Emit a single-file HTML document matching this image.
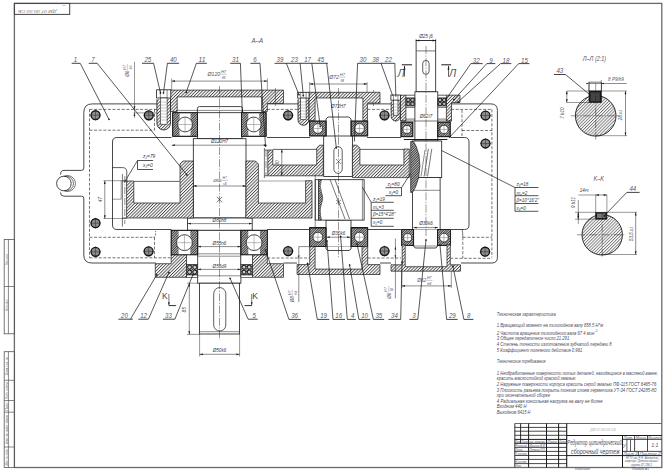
<!DOCTYPE html>
<html><head><meta charset="utf-8"><style>
html,body{margin:0;padding:0;background:#fff;}
svg{display:block;font-family:"Liberation Sans",sans-serif;}
</style></head><body>
<svg width="666" height="470" viewBox="0 0 666 470">
<rect width="666" height="470" fill="#fff"/>
<defs>
<pattern id="h" patternUnits="userSpaceOnUse" width="2.25" height="2.25" patternTransform="rotate(45)"><rect width="2.25" height="2.25" fill="#fff"/><line x1="0.5" y1="0" x2="0.5" y2="2.25" stroke="#2a2a2a" stroke-width="0.75"/></pattern>
<pattern id="hb" patternUnits="userSpaceOnUse" width="2.6" height="2.6" patternTransform="rotate(-45)"><rect width="2.6" height="2.6" fill="#fff"/><line x1="0" y1="0" x2="0" y2="2.6" stroke="#333" stroke-width="0.55"/></pattern>
<pattern id="hd" patternUnits="userSpaceOnUse" width="1.2" height="1.2" patternTransform="rotate(45)"><rect width="1.2" height="1.2" fill="#bbb"/><line x1="0.3" y1="0" x2="0.3" y2="1.2" stroke="#222" stroke-width="0.5"/></pattern>
<pattern id="hs" patternUnits="userSpaceOnUse" width="2.2" height="2.2" patternTransform="rotate(45)"><line x1="0.5" y1="0" x2="0.5" y2="2.2" stroke="#333" stroke-width="0.6"/></pattern>
</defs>
<rect x="14.4" y="3.4" width="647.4" height="464.1" fill="none" stroke="#6a6a6a" stroke-width="1.3"/>
<rect x="14.4" y="3.4" width="55.3" height="11" fill="none" stroke="#444" stroke-width="1.0"/>
<text x="37.3" y="10.1" font-size="3.1" text-anchor="middle" fill="#777" style="font-style:italic;" transform="rotate(180 37.3 10.1)" textLength="38.5" lengthAdjust="spacingAndGlyphs">ДМ 07.00.00 СБ</text>
<text x="63.7" y="5" font-size="2.4" text-anchor="middle" fill="#888" style="font-style:italic;" transform="rotate(180 63.7 5)">вЭ</text>
<rect x="4.2" y="239.4" width="10.2" height="94.4" fill="none" stroke="#555" stroke-width="0.8"/>
<line x1="8.4" y1="239.4" x2="8.4" y2="333.8" stroke="#555" stroke-width="0.7"/>
<line x1="4.2" y1="286.5" x2="14.4" y2="286.5" stroke="#555" stroke-width="0.7"/>
<rect x="4.2" y="351.7" width="10.2" height="115.8" fill="none" stroke="#555" stroke-width="0.8"/>
<line x1="8.4" y1="351.7" x2="8.4" y2="467.5" stroke="#555" stroke-width="0.7"/>
<line x1="4.2" y1="380.3" x2="14.4" y2="380.3" stroke="#555" stroke-width="0.7"/>
<line x1="4.2" y1="400.5" x2="14.4" y2="400.5" stroke="#555" stroke-width="0.7"/>
<line x1="4.2" y1="412.2" x2="14.4" y2="412.2" stroke="#555" stroke-width="0.7"/>
<line x1="4.2" y1="447" x2="14.4" y2="447" stroke="#555" stroke-width="0.7"/>
<text x="7.9" y="259.5" font-size="3.2" text-anchor="middle" fill="#667" style="font-style:italic;" transform="rotate(-90 7.9 259.5)" textLength="11" lengthAdjust="spacingAndGlyphs">Подп. и дата</text>
<text x="7.9" y="305" font-size="3.2" text-anchor="middle" fill="#667" style="font-style:italic;" transform="rotate(-90 7.9 305)" textLength="12" lengthAdjust="spacingAndGlyphs">Инв. № дубл.</text>
<text x="7.9" y="366" font-size="3.2" text-anchor="middle" fill="#667" style="font-style:italic;" transform="rotate(-90 7.9 366)" textLength="18" lengthAdjust="spacingAndGlyphs">Взам. инв. №</text>
<text x="7.9" y="390.4" font-size="3.2" text-anchor="middle" fill="#667" style="font-style:italic;" transform="rotate(-90 7.9 390.4)" textLength="17" lengthAdjust="spacingAndGlyphs">Подп. и дата</text>
<text x="7.9" y="406.3" font-size="3.2" text-anchor="middle" fill="#667" style="font-style:italic;" transform="rotate(-90 7.9 406.3)" textLength="9" lengthAdjust="spacingAndGlyphs">Подп.</text>
<text x="7.9" y="429.6" font-size="3.2" text-anchor="middle" fill="#667" style="font-style:italic;" transform="rotate(-90 7.9 429.6)" textLength="29" lengthAdjust="spacingAndGlyphs">Инв. № подл. дата</text>
<text x="7.9" y="457" font-size="3.2" text-anchor="middle" fill="#667" style="font-style:italic;" transform="rotate(-90 7.9 457)" textLength="17" lengthAdjust="spacingAndGlyphs">Инв. № подл.</text>
<line x1="514.8" y1="423.5" x2="661.8" y2="423.5" stroke="#666" stroke-width="1.1"/>
<line x1="514.8" y1="423.5" x2="514.8" y2="467.5" stroke="#444" stroke-width="1.1"/>
<line x1="520.6" y1="423.5" x2="520.6" y2="443.3" stroke="#1a1a1a" stroke-width="0.9"/>
<line x1="528.6" y1="423.5" x2="528.6" y2="467.5" stroke="#1a1a1a" stroke-width="1.0"/>
<line x1="546.5" y1="423.5" x2="546.5" y2="467.5" stroke="#1a1a1a" stroke-width="1.0"/>
<line x1="558.6" y1="423.5" x2="558.6" y2="467.5" stroke="#1a1a1a" stroke-width="1.0"/>
<line x1="566.7" y1="423.5" x2="566.7" y2="467.5" stroke="#1a1a1a" stroke-width="1.1"/>
<line x1="514.8" y1="427.4" x2="566.7" y2="427.4" stroke="#1a1a1a" stroke-width="0.8"/>
<line x1="514.8" y1="431.2" x2="566.7" y2="431.2" stroke="#1a1a1a" stroke-width="0.8"/>
<line x1="514.8" y1="435.3" x2="566.7" y2="435.3" stroke="#1a1a1a" stroke-width="0.8"/>
<line x1="514.8" y1="439.4" x2="566.7" y2="439.4" stroke="#1a1a1a" stroke-width="1.0"/>
<line x1="514.8" y1="443.3" x2="566.7" y2="443.3" stroke="#1a1a1a" stroke-width="1.0"/>
<line x1="514.8" y1="447.4" x2="566.7" y2="447.4" stroke="#1a1a1a" stroke-width="0.8"/>
<line x1="514.8" y1="451.4" x2="566.7" y2="451.4" stroke="#1a1a1a" stroke-width="0.8"/>
<line x1="514.8" y1="455.5" x2="566.7" y2="455.5" stroke="#1a1a1a" stroke-width="0.8"/>
<line x1="514.8" y1="459.4" x2="566.7" y2="459.4" stroke="#1a1a1a" stroke-width="0.8"/>
<line x1="514.8" y1="463.6" x2="566.7" y2="463.6" stroke="#1a1a1a" stroke-width="0.8"/>
<line x1="566.7" y1="435.5" x2="661.8" y2="435.5" stroke="#1a1a1a" stroke-width="1.0"/>
<line x1="566.7" y1="455.6" x2="661.8" y2="455.6" stroke="#1a1a1a" stroke-width="1.0"/>
<line x1="622.5" y1="435.5" x2="622.5" y2="467.5" stroke="#1a1a1a" stroke-width="1.0"/>
<line x1="622.5" y1="439.4" x2="661.8" y2="439.4" stroke="#1a1a1a" stroke-width="0.8"/>
<line x1="622.5" y1="451.4" x2="661.8" y2="451.4" stroke="#1a1a1a" stroke-width="0.8"/>
<line x1="626.9" y1="439.4" x2="626.9" y2="451.4" stroke="#1a1a1a" stroke-width="0.7"/>
<line x1="630.5" y1="439.4" x2="630.5" y2="451.4" stroke="#1a1a1a" stroke-width="0.7"/>
<line x1="634.6" y1="435.5" x2="634.6" y2="451.4" stroke="#1a1a1a" stroke-width="0.8"/>
<line x1="647.5" y1="435.5" x2="647.5" y2="451.4" stroke="#1a1a1a" stroke-width="0.8"/>
<line x1="638.4" y1="451.4" x2="638.4" y2="455.6" stroke="#1a1a1a" stroke-width="0.7"/>
<text x="567.3" y="445.3" font-size="6.6" text-anchor="start" fill="#4a4a66" style="font-style:italic;" textLength="54.3" lengthAdjust="spacingAndGlyphs">Редуктор цилиндрический</text>
<text x="571" y="453.6" font-size="6.6" text-anchor="start" fill="#4a4a66" style="font-style:italic;" textLength="48.6" lengthAdjust="spacingAndGlyphs">сборочный чертеж</text>
<text x="623.5" y="438.6" font-size="3" text-anchor="start" fill="#556" style="font-style:italic;" textLength="10" lengthAdjust="spacingAndGlyphs">Лит.</text>
<text x="636" y="438.6" font-size="3" text-anchor="start" fill="#556" style="font-style:italic;" textLength="10" lengthAdjust="spacingAndGlyphs">Масса</text>
<text x="648.2" y="438.6" font-size="3" text-anchor="start" fill="#556" style="font-style:italic;" textLength="12.8" lengthAdjust="spacingAndGlyphs">Масштаб</text>
<text x="654.8" y="447.2" font-size="5.2" text-anchor="middle" fill="#556" style="font-style:italic;">1:1</text>
<text x="624.2" y="447.5" font-size="4.5" text-anchor="middle" fill="#556" style="font-style:italic;">У</text>
<text x="623.5" y="454.7" font-size="3" text-anchor="start" fill="#556" style="font-style:italic;" textLength="14" lengthAdjust="spacingAndGlyphs">Лист    2</text>
<text x="639.5" y="454.7" font-size="3" text-anchor="start" fill="#556" style="font-style:italic;" textLength="21" lengthAdjust="spacingAndGlyphs">Листов     2</text>
<text x="626" y="459.2" font-size="2.9" text-anchor="start" fill="#556" style="font-style:italic;" textLength="32" lengthAdjust="spacingAndGlyphs">НГТУ им. Р. Е. Алексеева</text>
<text x="625" y="462.4" font-size="2.9" text-anchor="start" fill="#556" style="font-style:italic;" textLength="34" lengthAdjust="spacingAndGlyphs">кафедра "Детали машин"</text>
<text x="631" y="465.9" font-size="2.9" text-anchor="start" fill="#556" style="font-style:italic;" textLength="21" lengthAdjust="spacingAndGlyphs">группа 07-ТМ-1</text>
<text x="515.3" y="442.5" font-size="2.9" text-anchor="start" fill="#556" style="font-style:italic;" textLength="12.7" lengthAdjust="spacingAndGlyphs">Изм. Лист</text>
<text x="529.5" y="442.5" font-size="2.9" text-anchor="start" fill="#556" style="font-style:italic;" textLength="16" lengthAdjust="spacingAndGlyphs">№ докум.</text>
<text x="547.5" y="442.5" font-size="2.9" text-anchor="start" fill="#556" style="font-style:italic;" textLength="10" lengthAdjust="spacingAndGlyphs">Подп.</text>
<text x="559.5" y="442.5" font-size="2.9" text-anchor="start" fill="#556" style="font-style:italic;" textLength="6.5" lengthAdjust="spacingAndGlyphs">Дата</text>
<text x="515.3" y="446.5" font-size="2.9" text-anchor="start" fill="#556" style="font-style:italic;" textLength="12.2" lengthAdjust="spacingAndGlyphs">Разраб.</text>
<text x="529.5" y="446.5" font-size="2.9" text-anchor="start" fill="#556" style="font-style:italic;" textLength="16" lengthAdjust="spacingAndGlyphs">Иванов И.И.</text>
<text x="515.3" y="450.5" font-size="2.9" text-anchor="start" fill="#556" style="font-style:italic;" textLength="7.7" lengthAdjust="spacingAndGlyphs">Пров.</text>
<text x="529.5" y="450.5" font-size="2.9" text-anchor="start" fill="#556" style="font-style:italic;" textLength="16" lengthAdjust="spacingAndGlyphs">Петров П.П.</text>
<text x="515.3" y="454.6" font-size="2.9" text-anchor="start" fill="#556" style="font-style:italic;" textLength="12.2" lengthAdjust="spacingAndGlyphs">Т.контр.</text>
<text x="515.3" y="462.7" font-size="2.9" text-anchor="start" fill="#556" style="font-style:italic;" textLength="12.2" lengthAdjust="spacingAndGlyphs">Н.контр.</text>
<text x="515.3" y="466.7" font-size="2.9" text-anchor="start" fill="#556" style="font-style:italic;" textLength="6.2" lengthAdjust="spacingAndGlyphs">Утв.</text>
<text x="603" y="431" font-size="3.5" text-anchor="middle" fill="#aab" style="font-style:italic;">ДМ 07.00.00 СБ</text>
<text x="575" y="470.4" font-size="3.4" text-anchor="start" fill="#556" style="font-style:italic;" textLength="15" lengthAdjust="spacingAndGlyphs">Копировал</text>
<text x="631.7" y="470.4" font-size="3.4" text-anchor="start" fill="#556" style="font-style:italic;" textLength="17.3" lengthAdjust="spacingAndGlyphs">Формат  A1</text>
<line x1="92.3" y1="103.9" x2="157" y2="103.9" stroke="#1a1a1a" stroke-width="0.8"/>
<line x1="267" y1="103.9" x2="298" y2="103.9" stroke="#1a1a1a" stroke-width="0.8"/>
<line x1="367.4" y1="103.9" x2="391" y2="103.9" stroke="#1a1a1a" stroke-width="0.8"/>
<line x1="450.3" y1="103.9" x2="490.9" y2="103.9" stroke="#1a1a1a" stroke-width="0.8"/>
<path d="M83.8,112.4 Q83.8,103.9 92.3,103.9" fill="none" stroke="#1a1a1a" stroke-width="0.8"/>
<path d="M490.9,103.9 Q497.4,103.9 497.4,110.4" fill="none" stroke="#1a1a1a" stroke-width="0.8"/>
<line x1="83.8" y1="112.4" x2="83.8" y2="168" stroke="#1a1a1a" stroke-width="0.8"/>
<line x1="83.8" y1="198" x2="83.8" y2="255" stroke="#1a1a1a" stroke-width="0.8"/>
<path d="M83.8,255.0 Q83.8,263.0 91.8,263.0" fill="none" stroke="#1a1a1a" stroke-width="0.8"/>
<line x1="91.8" y1="263" x2="156" y2="263" stroke="#1a1a1a" stroke-width="0.8"/>
<line x1="497.4" y1="110.4" x2="497.4" y2="257.5" stroke="#1a1a1a" stroke-width="0.8"/>
<path d="M497.4,257.5 Q497.4,263.0 491.9,263.0" fill="none" stroke="#1a1a1a" stroke-width="0.8"/>
<line x1="461" y1="263" x2="491.9" y2="263" stroke="#1a1a1a" stroke-width="0.8"/>
<line x1="283.5" y1="263" x2="297" y2="263" stroke="#1a1a1a" stroke-width="0.8"/>
<line x1="380" y1="263" x2="391" y2="263" stroke="#1a1a1a" stroke-width="0.8"/>
<path d="M83.8,168 Q83.8,170.4 81.5,170.4 L64,170.4 Q60.5,170.4 60.5,174.5" fill="none" stroke="#1a1a1a" stroke-width="0.8"/>
<path d="M83.8,198 Q83.8,196.2 81.5,196.2 L64,196.2 Q60.5,196.2 60.5,192.5" fill="none" stroke="#1a1a1a" stroke-width="0.8"/>
<circle cx="63.9" cy="183.5" r="7.3" fill="#fff" stroke="#1a1a1a" stroke-width="0.8"/>
<path d="M64.5,176.2 A7.46,7.46 0 1 1 64.5,190.8" fill="none" stroke="#1a1a1a" stroke-width="0.6"/>
<path d="M64.5,176.2 A7.9,7.9 0 1 1 64.5,190.8" fill="none" stroke="#1a1a1a" stroke-width="0.6"/>
<line x1="89.5" y1="109.4" x2="157" y2="109.4" stroke="#1a1a1a" stroke-width="0.6" stroke-dasharray="3,1.6"/>
<line x1="267" y1="109.4" x2="298" y2="109.4" stroke="#1a1a1a" stroke-width="0.6" stroke-dasharray="3,1.6"/>
<line x1="367.4" y1="109.4" x2="391" y2="109.4" stroke="#1a1a1a" stroke-width="0.6" stroke-dasharray="3,1.6"/>
<line x1="451" y1="109.4" x2="491.9" y2="109.4" stroke="#1a1a1a" stroke-width="0.6" stroke-dasharray="3,1.6"/>
<line x1="89.5" y1="109.2" x2="89.5" y2="257.8" stroke="#1a1a1a" stroke-width="0.6" stroke-dasharray="3,1.6"/>
<line x1="89.5" y1="130.2" x2="154.5" y2="130.2" stroke="#1a1a1a" stroke-width="0.6" stroke-dasharray="3,1.6"/>
<line x1="154.5" y1="109.2" x2="154.5" y2="130.2" stroke="#1a1a1a" stroke-width="0.6" stroke-dasharray="3,1.6"/>
<line x1="89.5" y1="237.3" x2="153.3" y2="237.3" stroke="#1a1a1a" stroke-width="0.6" stroke-dasharray="3,1.6"/>
<path d="M153.3,237.3 Q155.6,237.3 155.6,234 L155.6,231" fill="none" stroke="#1a1a1a" stroke-width="0.6" stroke-dasharray="2,1.2"/>
<line x1="89.5" y1="257.8" x2="171.2" y2="257.8" stroke="#1a1a1a" stroke-width="0.6" stroke-dasharray="3,1.6"/>
<line x1="154.5" y1="237.3" x2="154.5" y2="257.8" stroke="#1a1a1a" stroke-width="0.6" stroke-dasharray="3,1.6"/>
<line x1="491.9" y1="109.4" x2="491.9" y2="257.5" stroke="#1a1a1a" stroke-width="0.6" stroke-dasharray="3,1.6"/>
<line x1="462" y1="130.5" x2="491.9" y2="130.5" stroke="#1a1a1a" stroke-width="0.6" stroke-dasharray="3,1.6"/>
<line x1="462" y1="110" x2="462" y2="137" stroke="#1a1a1a" stroke-width="0.6" stroke-dasharray="3,1.6"/>
<line x1="462.8" y1="237.3" x2="491.9" y2="237.3" stroke="#1a1a1a" stroke-width="0.6" stroke-dasharray="3,1.6"/>
<line x1="450.3" y1="258.3" x2="491.9" y2="258.3" stroke="#1a1a1a" stroke-width="0.6" stroke-dasharray="3,1.6"/>
<path d="M462.2,230 Q462.8,232 462.8,237.3" fill="none" stroke="#1a1a1a" stroke-width="0.6"/>
<line x1="462.8" y1="237.3" x2="462.8" y2="258.3" stroke="#1a1a1a" stroke-width="0.6" stroke-dasharray="3,1.6"/>
<line x1="267.3" y1="258" x2="309.7" y2="258" stroke="#1a1a1a" stroke-width="0.6" stroke-dasharray="3,1.6"/>
<line x1="367.7" y1="258" x2="401" y2="258" stroke="#1a1a1a" stroke-width="0.6" stroke-dasharray="3,1.6"/>
<line x1="117" y1="137.5" x2="171.5" y2="137.5" stroke="#1a1a1a" stroke-width="0.8"/>
<line x1="117" y1="229.5" x2="171.5" y2="229.5" stroke="#1a1a1a" stroke-width="0.8"/>
<line x1="267" y1="137.5" x2="310" y2="137.5" stroke="#1a1a1a" stroke-width="0.8"/>
<line x1="267" y1="229.5" x2="310" y2="229.5" stroke="#1a1a1a" stroke-width="0.8"/>
<line x1="367" y1="137.5" x2="401" y2="137.5" stroke="#1a1a1a" stroke-width="0.8"/>
<line x1="367" y1="229.5" x2="401" y2="229.5" stroke="#1a1a1a" stroke-width="0.8"/>
<line x1="451" y1="137.5" x2="464.5" y2="137.5" stroke="#1a1a1a" stroke-width="0.8"/>
<line x1="451" y1="229.5" x2="464.5" y2="229.5" stroke="#1a1a1a" stroke-width="0.8"/>
<path d="M112.5,142 Q112.5,137.5 117,137.5" fill="none" stroke="#1a1a1a" stroke-width="0.8"/>
<path d="M112.5,225 Q112.5,229.5 117,229.5" fill="none" stroke="#1a1a1a" stroke-width="0.8"/>
<line x1="112.5" y1="142" x2="112.5" y2="225" stroke="#1a1a1a" stroke-width="0.8"/>
<path d="M464.5,137.5 Q469,137.5 469,142" fill="none" stroke="#1a1a1a" stroke-width="0.8"/>
<path d="M464.5,229.5 Q469,229.5 469,225" fill="none" stroke="#1a1a1a" stroke-width="0.8"/>
<line x1="469" y1="142" x2="469" y2="225" stroke="#1a1a1a" stroke-width="0.8"/>
<path d="M112.5,167.6 L122.5,167.6 Q126.8,167.6 126.8,172 L126.8,181" fill="none" stroke="#1a1a1a" stroke-width="0.7"/>
<circle cx="95.5" cy="115.2" r="4.45" fill="#8c8c8c" stroke="#111" stroke-width="1.35"/>
<line x1="90" y1="115.2" x2="101" y2="115.2" stroke="#222" stroke-width="0.45"/>
<line x1="95.5" y1="109.7" x2="95.5" y2="120.7" stroke="#222" stroke-width="0.45"/>
<circle cx="148.8" cy="115.3" r="4.45" fill="#8c8c8c" stroke="#111" stroke-width="1.35"/>
<line x1="143.3" y1="115.3" x2="154.3" y2="115.3" stroke="#222" stroke-width="0.45"/>
<line x1="148.8" y1="109.8" x2="148.8" y2="120.8" stroke="#222" stroke-width="0.45"/>
<circle cx="288.1" cy="115.3" r="4.45" fill="#8c8c8c" stroke="#111" stroke-width="1.35"/>
<line x1="282.6" y1="115.3" x2="293.6" y2="115.3" stroke="#222" stroke-width="0.45"/>
<line x1="288.1" y1="109.8" x2="288.1" y2="120.8" stroke="#222" stroke-width="0.45"/>
<circle cx="384.5" cy="115.3" r="4.45" fill="#8c8c8c" stroke="#111" stroke-width="1.35"/>
<line x1="379" y1="115.3" x2="390" y2="115.3" stroke="#222" stroke-width="0.45"/>
<line x1="384.5" y1="109.8" x2="384.5" y2="120.8" stroke="#222" stroke-width="0.45"/>
<circle cx="485.5" cy="115.5" r="4.45" fill="#8c8c8c" stroke="#111" stroke-width="1.35"/>
<line x1="480" y1="115.5" x2="491" y2="115.5" stroke="#222" stroke-width="0.45"/>
<line x1="485.5" y1="110" x2="485.5" y2="121" stroke="#222" stroke-width="0.45"/>
<circle cx="485.5" cy="143.5" r="4.45" fill="#8c8c8c" stroke="#111" stroke-width="1.35"/>
<line x1="480" y1="143.5" x2="491" y2="143.5" stroke="#222" stroke-width="0.45"/>
<line x1="485.5" y1="138" x2="485.5" y2="149" stroke="#222" stroke-width="0.45"/>
<circle cx="95.5" cy="223.2" r="4.45" fill="#8c8c8c" stroke="#111" stroke-width="1.35"/>
<line x1="90" y1="223.2" x2="101" y2="223.2" stroke="#222" stroke-width="0.45"/>
<line x1="95.5" y1="217.7" x2="95.5" y2="228.7" stroke="#222" stroke-width="0.45"/>
<circle cx="95.5" cy="251.8" r="4.45" fill="#8c8c8c" stroke="#111" stroke-width="1.35"/>
<line x1="90" y1="251.8" x2="101" y2="251.8" stroke="#222" stroke-width="0.45"/>
<line x1="95.5" y1="246.3" x2="95.5" y2="257.3" stroke="#222" stroke-width="0.45"/>
<circle cx="148.6" cy="251.3" r="4.45" fill="#8c8c8c" stroke="#111" stroke-width="1.35"/>
<line x1="143.1" y1="251.3" x2="154.1" y2="251.3" stroke="#222" stroke-width="0.45"/>
<line x1="148.6" y1="245.8" x2="148.6" y2="256.8" stroke="#222" stroke-width="0.45"/>
<circle cx="288.1" cy="251.1" r="4.45" fill="#8c8c8c" stroke="#111" stroke-width="1.35"/>
<line x1="282.6" y1="251.1" x2="293.6" y2="251.1" stroke="#222" stroke-width="0.45"/>
<line x1="288.1" y1="245.6" x2="288.1" y2="256.6" stroke="#222" stroke-width="0.45"/>
<circle cx="384.5" cy="251.1" r="4.45" fill="#8c8c8c" stroke="#111" stroke-width="1.35"/>
<line x1="379" y1="251.1" x2="390" y2="251.1" stroke="#222" stroke-width="0.45"/>
<line x1="384.5" y1="245.6" x2="384.5" y2="256.6" stroke="#222" stroke-width="0.45"/>
<circle cx="485.1" cy="251.7" r="4.45" fill="#8c8c8c" stroke="#111" stroke-width="1.35"/>
<line x1="479.6" y1="251.7" x2="490.6" y2="251.7" stroke="#222" stroke-width="0.45"/>
<line x1="485.1" y1="246.2" x2="485.1" y2="257.2" stroke="#222" stroke-width="0.45"/>
<path d="M197.4,112.7 L197.4,108.6 Q197.4,106.6 199.4,106.6 L240.5,106.6 Q242.5,106.6 242.5,108.6 L242.5,112.7" fill="#fff" stroke="#1a1a1a" stroke-width="0.8"/>
<rect x="197.4" y="112.7" width="44.6" height="26" fill="#fff" stroke="#1a1a1a" stroke-width="0.8"/>
<rect x="193.3" y="138.7" width="52.7" height="79.3" fill="#fff" stroke="#1a1a1a" stroke-width="0.8"/>
<rect x="187.6" y="218" width="64.6" height="12.3" fill="#fff" stroke="#1a1a1a" stroke-width="0.8"/>
<rect x="197.7" y="230.3" width="43.2" height="52.9" fill="#fff" stroke="#1a1a1a" stroke-width="0.8"/>
<rect x="199.6" y="283.2" width="40" height="50.8" fill="#fff" stroke="#1a1a1a" stroke-width="0.8"/>
<line x1="199.6" y1="331.7" x2="239.6" y2="331.7" stroke="#1a1a1a" stroke-width="0.5"/>
<line x1="216.8" y1="196.9" x2="222.2" y2="202.3" stroke="#1a1a1a" stroke-width="0.6"/>
<line x1="222.2" y1="196.9" x2="216.8" y2="202.3" stroke="#1a1a1a" stroke-width="0.6"/>
<line x1="197.7" y1="253.8" x2="240.9" y2="253.8" stroke="#1a1a1a" stroke-width="0.5"/>
<line x1="197.7" y1="256.2" x2="240.9" y2="256.2" stroke="#1a1a1a" stroke-width="0.5"/>
<path d="M213.7,293.6 A6.05,6.05 0 0 1 225.8,293.6 L225.8,325 A6.05,6.05 0 0 1 213.7,325 Z" fill="none" stroke="#1a1a1a" stroke-width="0.7"/>
<path d="M326,136 L326,119 L328,117 L349,117 L351,119 L351,136" fill="#fff" stroke="#1a1a1a" stroke-width="0.8"/>
<rect x="323.7" y="136" width="28.7" height="40.5" fill="#fff" stroke="#1a1a1a" stroke-width="0.8"/>
<rect x="326" y="220.1" width="25" height="27" fill="#fff" stroke="#1a1a1a" stroke-width="0.8"/>
<path d="M326,247 L326,249 L328,250.5 L349,250.5 L351,249 L351,247" fill="#fff" stroke="#1a1a1a" stroke-width="0.8"/>
<path d="M333.9,150.8 A4.15,4.15 0 0 1 342.2,150.8 L342.2,169.2 A4.15,4.15 0 0 1 333.9,169.2 Z" fill="none" stroke="#1a1a1a" stroke-width="0.7"/>
<line x1="336" y1="159" x2="341" y2="164" stroke="#1a1a1a" stroke-width="0.5"/>
<line x1="341" y1="159" x2="336" y2="164" stroke="#1a1a1a" stroke-width="0.5"/>
<rect x="416.1" y="40.5" width="19.6" height="51.3" fill="#fff" stroke="#1a1a1a" stroke-width="0.8"/>
<line x1="416.3" y1="50.9" x2="435.7" y2="50.9" stroke="#1a1a1a" stroke-width="0.6"/>
<path d="M422.7,63.6 A3.2,3.2 0 0 1 429.1,63.6 L429.1,71.1 A3.2,3.2 0 0 1 422.7,71.1 Z" fill="none" stroke="#1a1a1a" stroke-width="0.7"/>
<rect x="414.9" y="91.8" width="22.9" height="49.2" fill="#fff" stroke="#1a1a1a" stroke-width="0.8"/>
<rect x="412.4" y="177.6" width="27.7" height="52.1" fill="#fff" stroke="#1a1a1a" stroke-width="0.8"/>
<line x1="412.4" y1="190.3" x2="440.1" y2="190.3" stroke="#1a1a1a" stroke-width="0.5"/>
<path d="M413.6,229.6 L413.6,246 L415.2,248 L436,248 L437.6,246 L437.6,229.6" fill="#fff" stroke="#1a1a1a" stroke-width="0.8"/>
<line x1="413.6" y1="246" x2="437.6" y2="246" stroke="#1a1a1a" stroke-width="0.5"/>
<rect x="172.7" y="112.7" width="24.7" height="23.6" fill="url(#hd)" stroke="#1a1a1a" stroke-width="0.8"/>
<rect x="179.62" y="113.3" width="10.87" height="22.4" fill="#fff" stroke="none" stroke-width="0"/>
<circle cx="185.05" cy="124.5" r="7.41" fill="#fff" stroke="#1a1a1a" stroke-width="0.8"/>
<line x1="177.64" y1="124.5" x2="192.46" y2="124.5" stroke="#666" stroke-width="0.45"/>
<line x1="185.05" y1="117.09" x2="185.05" y2="131.91" stroke="#666" stroke-width="0.45"/>
<rect x="172.7" y="112.7" width="24.7" height="23.6" fill="none" stroke="#1a1a1a" stroke-width="0.8"/>
<rect x="241.4" y="112.7" width="24.7" height="23.6" fill="url(#hd)" stroke="#1a1a1a" stroke-width="0.8"/>
<rect x="248.32" y="113.3" width="10.87" height="22.4" fill="#fff" stroke="none" stroke-width="0"/>
<circle cx="253.75" cy="124.5" r="7.41" fill="#fff" stroke="#1a1a1a" stroke-width="0.8"/>
<line x1="246.34" y1="124.5" x2="261.16" y2="124.5" stroke="#666" stroke-width="0.45"/>
<line x1="253.75" y1="117.09" x2="253.75" y2="131.91" stroke="#666" stroke-width="0.45"/>
<rect x="241.4" y="112.7" width="24.7" height="23.6" fill="none" stroke="#1a1a1a" stroke-width="0.8"/>
<rect x="171.2" y="230.3" width="26.5" height="24.7" fill="url(#hd)" stroke="#1a1a1a" stroke-width="0.8"/>
<rect x="178.62" y="230.9" width="11.66" height="23.5" fill="#fff" stroke="none" stroke-width="0"/>
<circle cx="184.45" cy="242.65" r="7.95" fill="#fff" stroke="#1a1a1a" stroke-width="0.8"/>
<line x1="176.5" y1="242.65" x2="192.4" y2="242.65" stroke="#666" stroke-width="0.45"/>
<line x1="184.45" y1="234.7" x2="184.45" y2="250.6" stroke="#666" stroke-width="0.45"/>
<rect x="171.2" y="230.3" width="26.5" height="24.7" fill="none" stroke="#1a1a1a" stroke-width="0.8"/>
<rect x="240.9" y="230.3" width="26.4" height="24.7" fill="url(#hd)" stroke="#1a1a1a" stroke-width="0.8"/>
<rect x="248.29" y="230.9" width="11.62" height="23.5" fill="#fff" stroke="none" stroke-width="0"/>
<circle cx="254.1" cy="242.65" r="7.92" fill="#fff" stroke="#1a1a1a" stroke-width="0.8"/>
<line x1="246.18" y1="242.65" x2="262.02" y2="242.65" stroke="#666" stroke-width="0.45"/>
<line x1="254.1" y1="234.73" x2="254.1" y2="250.57" stroke="#666" stroke-width="0.45"/>
<rect x="240.9" y="230.3" width="26.4" height="24.7" fill="none" stroke="#1a1a1a" stroke-width="0.8"/>
<rect x="309.7" y="121.1" width="16.3" height="14.8" fill="url(#hd)" stroke="#1a1a1a" stroke-width="0.8"/>
<circle cx="317.85" cy="128.5" r="4.89" fill="#fff" stroke="#1a1a1a" stroke-width="0.8"/>
<line x1="312.96" y1="128.5" x2="322.74" y2="128.5" stroke="#666" stroke-width="0.45"/>
<line x1="317.85" y1="123.61" x2="317.85" y2="133.39" stroke="#666" stroke-width="0.45"/>
<rect x="309.7" y="121.1" width="16.3" height="14.8" fill="none" stroke="#1a1a1a" stroke-width="0.8"/>
<rect x="351.2" y="121.1" width="16.5" height="14.8" fill="url(#hd)" stroke="#1a1a1a" stroke-width="0.8"/>
<circle cx="359.45" cy="128.5" r="4.95" fill="#fff" stroke="#1a1a1a" stroke-width="0.8"/>
<line x1="354.5" y1="128.5" x2="364.4" y2="128.5" stroke="#666" stroke-width="0.45"/>
<line x1="359.45" y1="123.55" x2="359.45" y2="133.45" stroke="#666" stroke-width="0.45"/>
<rect x="351.2" y="121.1" width="16.5" height="14.8" fill="none" stroke="#1a1a1a" stroke-width="0.8"/>
<rect x="309.7" y="227.7" width="16.3" height="18.9" fill="url(#hd)" stroke="#1a1a1a" stroke-width="0.8"/>
<circle cx="317.85" cy="237.15" r="4.89" fill="#fff" stroke="#1a1a1a" stroke-width="0.8"/>
<line x1="312.96" y1="237.15" x2="322.74" y2="237.15" stroke="#666" stroke-width="0.45"/>
<line x1="317.85" y1="232.26" x2="317.85" y2="242.04" stroke="#666" stroke-width="0.45"/>
<rect x="309.7" y="227.7" width="16.3" height="18.9" fill="none" stroke="#1a1a1a" stroke-width="0.8"/>
<rect x="351.2" y="227.7" width="16.5" height="18.9" fill="url(#hd)" stroke="#1a1a1a" stroke-width="0.8"/>
<circle cx="359.45" cy="237.15" r="4.95" fill="#fff" stroke="#1a1a1a" stroke-width="0.8"/>
<line x1="354.5" y1="237.15" x2="364.4" y2="237.15" stroke="#666" stroke-width="0.45"/>
<line x1="359.45" y1="232.2" x2="359.45" y2="242.1" stroke="#666" stroke-width="0.45"/>
<rect x="351.2" y="227.7" width="16.5" height="18.9" fill="none" stroke="#1a1a1a" stroke-width="0.8"/>
<rect x="401" y="122.2" width="11.8" height="14.5" fill="url(#hd)" stroke="#1a1a1a" stroke-width="0.8"/>
<circle cx="406.9" cy="129.45" r="4.01" fill="#fff" stroke="#1a1a1a" stroke-width="0.8"/>
<line x1="402.89" y1="129.45" x2="410.91" y2="129.45" stroke="#666" stroke-width="0.45"/>
<line x1="406.9" y1="125.44" x2="406.9" y2="133.46" stroke="#666" stroke-width="0.45"/>
<rect x="401" y="122.2" width="11.8" height="14.5" fill="none" stroke="#1a1a1a" stroke-width="0.8"/>
<rect x="437.8" y="122.2" width="12.4" height="14.5" fill="url(#hd)" stroke="#1a1a1a" stroke-width="0.8"/>
<circle cx="444" cy="129.45" r="4.22" fill="#fff" stroke="#1a1a1a" stroke-width="0.8"/>
<line x1="439.78" y1="129.45" x2="448.22" y2="129.45" stroke="#666" stroke-width="0.45"/>
<line x1="444" y1="125.23" x2="444" y2="133.67" stroke="#666" stroke-width="0.45"/>
<rect x="437.8" y="122.2" width="12.4" height="14.5" fill="none" stroke="#1a1a1a" stroke-width="0.8"/>
<rect x="401.7" y="229.6" width="11.9" height="16" fill="url(#hd)" stroke="#1a1a1a" stroke-width="0.8"/>
<circle cx="407.65" cy="237.6" r="4.05" fill="#fff" stroke="#1a1a1a" stroke-width="0.8"/>
<line x1="403.6" y1="237.6" x2="411.7" y2="237.6" stroke="#666" stroke-width="0.45"/>
<line x1="407.65" y1="233.55" x2="407.65" y2="241.65" stroke="#666" stroke-width="0.45"/>
<rect x="401.7" y="229.6" width="11.9" height="16" fill="none" stroke="#1a1a1a" stroke-width="0.8"/>
<rect x="437.5" y="229.6" width="12.9" height="16" fill="url(#hd)" stroke="#1a1a1a" stroke-width="0.8"/>
<circle cx="443.95" cy="237.6" r="4.39" fill="#fff" stroke="#1a1a1a" stroke-width="0.8"/>
<line x1="439.56" y1="237.6" x2="448.34" y2="237.6" stroke="#666" stroke-width="0.45"/>
<line x1="443.95" y1="233.21" x2="443.95" y2="241.99" stroke="#666" stroke-width="0.45"/>
<rect x="437.5" y="229.6" width="12.9" height="16" fill="none" stroke="#1a1a1a" stroke-width="0.8"/>
<line x1="403.8" y1="139.5" x2="447.4" y2="139.5" stroke="#1a1a1a" stroke-width="1.2"/>
<line x1="309.7" y1="227.7" x2="326" y2="227.7" stroke="#1a1a1a" stroke-width="1.2"/>
<line x1="351.2" y1="227.7" x2="367.7" y2="227.7" stroke="#1a1a1a" stroke-width="1.2"/>
<polygon points="170.4,90.1 283.5,90.1 283.5,103.5 267.3,103.5 267.3,111.5 261.6,111.5 261.6,96.9 177.2,96.9 177.2,111.5 170.4,111.5" fill="url(#h)" stroke="#1a1a1a" stroke-width="0.7"/>
<line x1="275.4" y1="88" x2="275.4" y2="106" stroke="#1a1a1a" stroke-width="0.45"/>
<line x1="373.5" y1="90" x2="373.5" y2="106" stroke="#1a1a1a" stroke-width="0.45"/>
<line x1="177.2" y1="110.4" x2="261.6" y2="110.4" stroke="#1a1a1a" stroke-width="0.5"/>
<polygon points="155.3,263.7 171.2,263.7 171.2,255 186.6,255 186.6,277.3 155.3,277.3" fill="url(#h)" stroke="#1a1a1a" stroke-width="0.7"/>
<polygon points="252.3,255 267.3,255 267.3,263.7 283.5,263.7 283.5,277.3 252.3,277.3" fill="url(#h)" stroke="#1a1a1a" stroke-width="0.7"/>
<rect x="186.6" y="264.4" width="11.1" height="10.6" fill="url(#hd)" stroke="#1a1a1a" stroke-width="0.6"/>
<rect x="186.6" y="255" width="11.1" height="9.4" fill="#fff" stroke="#1a1a1a" stroke-width="0.6"/>
<rect x="186.6" y="275" width="11.1" height="2.3" fill="#fff" stroke="#1a1a1a" stroke-width="0.6"/>
<circle cx="189.55" cy="267.2" r="1.9" fill="#ccc" stroke="#000" stroke-width="0.8"/>
<circle cx="194.75" cy="267.2" r="1.9" fill="#ccc" stroke="#000" stroke-width="0.8"/>
<circle cx="189.55" cy="272.1" r="1.9" fill="#ccc" stroke="#000" stroke-width="0.8"/>
<circle cx="194.75" cy="272.1" r="1.9" fill="#ccc" stroke="#000" stroke-width="0.8"/>
<rect x="240.9" y="264.4" width="11.4" height="10.6" fill="url(#hd)" stroke="#1a1a1a" stroke-width="0.6"/>
<rect x="240.9" y="255" width="11.4" height="9.4" fill="#fff" stroke="#1a1a1a" stroke-width="0.6"/>
<rect x="240.9" y="275" width="11.4" height="2.3" fill="#fff" stroke="#1a1a1a" stroke-width="0.6"/>
<circle cx="244" cy="267.2" r="1.9" fill="#ccc" stroke="#000" stroke-width="0.8"/>
<circle cx="249.2" cy="267.2" r="1.9" fill="#ccc" stroke="#000" stroke-width="0.8"/>
<circle cx="244" cy="272.1" r="1.9" fill="#ccc" stroke="#000" stroke-width="0.8"/>
<circle cx="249.2" cy="272.1" r="1.9" fill="#ccc" stroke="#000" stroke-width="0.8"/>
<line x1="197.7" y1="275.8" x2="240.9" y2="275.8" stroke="#1a1a1a" stroke-width="0.5"/>
<polygon points="308.8,92.3 380,92.3 380,103.1 367.4,103.1 367.4,120.5 362.9,120.5 362.9,98 315.1,98 315.1,120.5 308.8,120.5" fill="url(#h)" stroke="#1a1a1a" stroke-width="0.7"/>
<polygon points="309.7,246.6 315.1,246.6 315.1,269.1 362,269.1 362,246.6 367.7,246.6 367.7,264.6 380,264.6 380,274.5 297.1,274.5 297.1,264.6 309.7,264.6" fill="url(#h)" stroke="#1a1a1a" stroke-width="0.7"/>
<polygon points="400.5,95.2 405.9,95.2 405.9,121 400.5,121" fill="url(#h)" stroke="#1a1a1a" stroke-width="0.7"/>
<polygon points="446.4,95.2 460,95.2 460,102.5 451.5,102.5 451.5,121 446.4,121" fill="url(#h)" stroke="#1a1a1a" stroke-width="0.7"/>
<rect x="405.9" y="97.9" width="9" height="8.1" fill="url(#hd)" stroke="#1a1a1a" stroke-width="0.6"/>
<circle cx="408.3" cy="100" r="1.7" fill="#bbb" stroke="#000" stroke-width="0.7"/>
<circle cx="412.5" cy="100" r="1.7" fill="#bbb" stroke="#000" stroke-width="0.7"/>
<circle cx="408.3" cy="103.9" r="1.7" fill="#bbb" stroke="#000" stroke-width="0.7"/>
<circle cx="412.5" cy="103.9" r="1.7" fill="#bbb" stroke="#000" stroke-width="0.7"/>
<line x1="405.9" y1="95.2" x2="414.9" y2="95.2" stroke="#1a1a1a" stroke-width="0.7"/>
<line x1="405.9" y1="107.4" x2="414.9" y2="107.4" stroke="#1a1a1a" stroke-width="0.6"/>
<line x1="405.9" y1="119.1" x2="414.9" y2="119.1" stroke="#1a1a1a" stroke-width="0.6"/>
<rect x="437.8" y="97.9" width="8.6" height="8.1" fill="url(#hd)" stroke="#1a1a1a" stroke-width="0.6"/>
<circle cx="440" cy="100" r="1.7" fill="#bbb" stroke="#000" stroke-width="0.7"/>
<circle cx="444.2" cy="100" r="1.7" fill="#bbb" stroke="#000" stroke-width="0.7"/>
<circle cx="440" cy="103.9" r="1.7" fill="#bbb" stroke="#000" stroke-width="0.7"/>
<circle cx="444.2" cy="103.9" r="1.7" fill="#bbb" stroke="#000" stroke-width="0.7"/>
<line x1="437.8" y1="95.2" x2="446.4" y2="95.2" stroke="#1a1a1a" stroke-width="0.7"/>
<line x1="437.8" y1="107.4" x2="446.4" y2="107.4" stroke="#1a1a1a" stroke-width="0.6"/>
<line x1="437.8" y1="119.1" x2="446.4" y2="119.1" stroke="#1a1a1a" stroke-width="0.6"/>
<line x1="400.5" y1="121" x2="451.5" y2="121" stroke="#1a1a1a" stroke-width="0.6"/>
<polygon points="402.2,244.6 405.2,244.6 405.2,266.7 447,266.7 447,244.6 450.3,244.6 450.3,264.8 460.5,264.8 460.5,271.2 391,271.2 391,264.8 402.2,264.8" fill="url(#h)" stroke="#1a1a1a" stroke-width="0.7"/>
<polygon points="126.6,181 133.8,181 133.8,203 180,203 180,164 183,161 193.3,161 193.3,218 126.6,218" fill="url(#h)" stroke="#1a1a1a" stroke-width="0.7"/>
<polygon points="246,161 255.4,161 258.4,164 258.4,203 305.6,203 305.6,180.7 312,180.7 312,218 246,218" fill="url(#h)" stroke="#1a1a1a" stroke-width="0.7"/>
<line x1="133.8" y1="181.4" x2="180" y2="181.4" stroke="#666" stroke-width="1.0"/>
<line x1="133.8" y1="217.4" x2="180" y2="217.4" stroke="#888" stroke-width="0.6"/>
<line x1="258.4" y1="181" x2="305.6" y2="181" stroke="#666" stroke-width="0.6"/>
<line x1="122.4" y1="174" x2="122.4" y2="226.6" stroke="#1a1a1a" stroke-width="0.6"/>
<line x1="124.8" y1="176" x2="124.8" y2="224" stroke="#1a1a1a" stroke-width="0.5" stroke-dasharray="7,1.5,1,1.5"/>
<line x1="122.4" y1="181" x2="126.6" y2="181" stroke="#1a1a1a" stroke-width="0.6"/>
<line x1="122.4" y1="218" x2="126.6" y2="218" stroke="#1a1a1a" stroke-width="0.6"/>
<polygon points="267.8,150 272.8,150 272.8,165 316.7,165 316.7,148 319.7,145.2 323.3,145.2 323.3,175.8 267.8,175.8" fill="url(#h)" stroke="#1a1a1a" stroke-width="0.7"/>
<polygon points="352.4,145.2 356.9,145.2 359.9,148 359.9,165 403.9,165 403.9,149 409.3,149 409.3,177.6 352.4,177.6 352.4,175.8" fill="url(#h)" stroke="#1a1a1a" stroke-width="0.7"/>
<line x1="272.8" y1="149.4" x2="316.7" y2="149.4" stroke="#1a1a1a" stroke-width="0.7"/>
<line x1="359.9" y1="149.4" x2="403.9" y2="149.4" stroke="#1a1a1a" stroke-width="0.7"/>
<line x1="264.4" y1="148" x2="264.4" y2="178" stroke="#1a1a1a" stroke-width="0.6"/>
<line x1="266" y1="150" x2="266" y2="176" stroke="#1a1a1a" stroke-width="0.5" stroke-dasharray="7,1.5,1,1.5"/>
<line x1="264.4" y1="150" x2="267.8" y2="150" stroke="#1a1a1a" stroke-width="0.6"/>
<line x1="264.4" y1="175.8" x2="267.8" y2="175.8" stroke="#1a1a1a" stroke-width="0.6"/>
<rect x="315.2" y="179.7" width="48.9" height="40.4" fill="#fff" stroke="#1a1a1a" stroke-width="0.8"/>
<path d="M318.5,179.7 L321.5,179.7 Q319,186 321.5,192 Q324,198 321.5,204 Q319,210 321.5,220.1 L318.5,220.1 Z" fill="url(#hd)" stroke="#1a1a1a" stroke-width="0.5"/>
<line x1="318.5" y1="179.7" x2="318.5" y2="220.1" stroke="#1a1a1a" stroke-width="0.5"/>
<line x1="315.2" y1="174.7" x2="315.2" y2="229" stroke="#1a1a1a" stroke-width="0.5"/>
<line x1="330.1" y1="179.7" x2="345" y2="219" stroke="#1a1a1a" stroke-width="0.6"/>
<line x1="335" y1="179.7" x2="349.5" y2="219" stroke="#1a1a1a" stroke-width="0.6"/>
<line x1="336" y1="200" x2="341" y2="204" stroke="#1a1a1a" stroke-width="0.5"/>
<line x1="341" y1="200" x2="336" y2="204" stroke="#1a1a1a" stroke-width="0.5"/>
<line x1="362.4" y1="179.7" x2="362.4" y2="220.1" stroke="#1a1a1a" stroke-width="0.5"/>
<rect x="412.4" y="141" width="29.3" height="36.6" fill="#fff" stroke="#1a1a1a" stroke-width="0.8"/>
<line x1="424.1" y1="176.5" x2="428.4" y2="148.8" stroke="#1a1a1a" stroke-width="0.6"/>
<line x1="427.5" y1="176.5" x2="431.8" y2="148.8" stroke="#1a1a1a" stroke-width="0.6"/>
<line x1="421" y1="176.5" x2="425" y2="150" stroke="#1a1a1a" stroke-width="0.5"/>
<polygon points="410.7,141.4 413.5,141.4 416,146 419,155 419.9,166 418.5,178 415.5,187 412.5,192.4 410.7,192.4" fill="url(#hd)" stroke="#1a1a1a" stroke-width="0.7"/>
<path d="M156.9,99.3 L156.9,123.2 A6.8,6.8 0 0 0 170.5,123.2 L170.5,99.3" fill="url(#h)" stroke="#1a1a1a" stroke-width="0.8"/>
<rect x="156.6" y="89.8" width="14.2" height="8.2" fill="#fff" stroke="#1a1a1a" stroke-width="0.8"/>
<line x1="160.3" y1="89.8" x2="160.3" y2="98" stroke="#1a1a1a" stroke-width="0.5"/>
<line x1="167.1" y1="89.8" x2="167.1" y2="98" stroke="#1a1a1a" stroke-width="0.5"/>
<rect x="160.3" y="98" width="6.8" height="26.2" fill="#fff" stroke="#1a1a1a" stroke-width="0.6"/>
<line x1="160.3" y1="102" x2="167.1" y2="102" stroke="#777" stroke-width="0.4"/>
<line x1="160.3" y1="105" x2="167.1" y2="105" stroke="#777" stroke-width="0.4"/>
<line x1="160.3" y1="108" x2="167.1" y2="108" stroke="#777" stroke-width="0.4"/>
<line x1="160.3" y1="111" x2="167.1" y2="111" stroke="#777" stroke-width="0.4"/>
<line x1="160.3" y1="114" x2="167.1" y2="114" stroke="#777" stroke-width="0.4"/>
<line x1="160.3" y1="117" x2="167.1" y2="117" stroke="#777" stroke-width="0.4"/>
<line x1="160.3" y1="120" x2="167.1" y2="120" stroke="#777" stroke-width="0.4"/>
<path d="M298,99.4 L298,119.9 A5.4,5.4 0 0 0 308.8,119.9 L308.8,99.4" fill="url(#h)" stroke="#1a1a1a" stroke-width="0.8"/>
<rect x="297.7" y="92.3" width="11.4" height="5.8" fill="#fff" stroke="#1a1a1a" stroke-width="0.8"/>
<line x1="300.7" y1="92.3" x2="300.7" y2="98.1" stroke="#1a1a1a" stroke-width="0.5"/>
<line x1="306.1" y1="92.3" x2="306.1" y2="98.1" stroke="#1a1a1a" stroke-width="0.5"/>
<rect x="300.7" y="98.1" width="5.4" height="21.4" fill="#fff" stroke="#1a1a1a" stroke-width="0.6"/>
<line x1="300.7" y1="102" x2="306.1" y2="102" stroke="#777" stroke-width="0.4"/>
<line x1="300.7" y1="105" x2="306.1" y2="105" stroke="#777" stroke-width="0.4"/>
<line x1="300.7" y1="108" x2="306.1" y2="108" stroke="#777" stroke-width="0.4"/>
<line x1="300.7" y1="111" x2="306.1" y2="111" stroke="#777" stroke-width="0.4"/>
<line x1="300.7" y1="114" x2="306.1" y2="114" stroke="#777" stroke-width="0.4"/>
<line x1="300.7" y1="117" x2="306.1" y2="117" stroke="#777" stroke-width="0.4"/>
<path d="M391.2,101.5 L391.2,116.5 A4.5,4.5 0 0 0 400.2,116.5 L400.2,101.5" fill="url(#h)" stroke="#1a1a1a" stroke-width="0.8"/>
<rect x="390.9" y="95" width="9.6" height="5.2" fill="#fff" stroke="#1a1a1a" stroke-width="0.8"/>
<line x1="393.45" y1="95" x2="393.45" y2="100.2" stroke="#1a1a1a" stroke-width="0.5"/>
<line x1="397.95" y1="95" x2="397.95" y2="100.2" stroke="#1a1a1a" stroke-width="0.5"/>
<rect x="393.45" y="100.2" width="4.5" height="15" fill="#fff" stroke="#1a1a1a" stroke-width="0.6"/>
<line x1="393.45" y1="104" x2="397.95" y2="104" stroke="#777" stroke-width="0.4"/>
<line x1="393.45" y1="107" x2="397.95" y2="107" stroke="#777" stroke-width="0.4"/>
<line x1="393.45" y1="110" x2="397.95" y2="110" stroke="#777" stroke-width="0.4"/>
<line x1="393.45" y1="113" x2="397.95" y2="113" stroke="#777" stroke-width="0.4"/>
<line x1="219.5" y1="86" x2="219.5" y2="340" stroke="#1a1a1a" stroke-width="0.45" stroke-dasharray="8,1.5,1.2,1.5"/>
<line x1="338.5" y1="88" x2="338.5" y2="258" stroke="#1a1a1a" stroke-width="0.45" stroke-dasharray="8,1.5,1.2,1.5"/>
<line x1="426" y1="46" x2="426" y2="236" stroke="#1a1a1a" stroke-width="0.45" stroke-dasharray="8,1.5,1.2,1.5"/>
<line x1="171.7" y1="81.1" x2="267.4" y2="81.1" stroke="#1a1a1a" stroke-width="0.5"/>
<polygon points="171.7,81.1 174.9,80.2 174.9,82" fill="#1a1a1a"/>
<polygon points="267.4,81.1 264.2,82 264.2,80.2" fill="#1a1a1a"/>
<line x1="171.7" y1="78.5" x2="171.7" y2="90" stroke="#1a1a1a" stroke-width="0.45"/>
<line x1="267.4" y1="78.5" x2="267.4" y2="90" stroke="#1a1a1a" stroke-width="0.45"/>
<text x="220.2" y="76.1" font-size="5.2" text-anchor="end" fill="#556" style="font-style:italic;">Ø120</text>
<text x="223.5" y="72.7" font-size="4.056" text-anchor="middle" fill="#556" style="font-style:italic;">H7</text>
<line x1="220.3" y1="74.2" x2="226.7" y2="74.2" stroke="#667" stroke-width="0.35"/>
<text x="223.5" y="78.7" font-size="4.056" text-anchor="middle" fill="#556" style="font-style:italic;">f8</text>
<line x1="309.7" y1="84" x2="367.1" y2="84" stroke="#1a1a1a" stroke-width="0.5"/>
<polygon points="309.7,84 312.9,83.1 312.9,84.9" fill="#1a1a1a"/>
<polygon points="367.1,84 363.9,84.9 363.9,83.1" fill="#1a1a1a"/>
<line x1="309.7" y1="82" x2="309.7" y2="92" stroke="#1a1a1a" stroke-width="0.45"/>
<line x1="367.1" y1="82" x2="367.1" y2="92" stroke="#1a1a1a" stroke-width="0.45"/>
<text x="339" y="79" font-size="5.2" text-anchor="end" fill="#556" style="font-style:italic;">Ø72</text>
<text x="342.3" y="75.6" font-size="4.056" text-anchor="middle" fill="#556" style="font-style:italic;">H7</text>
<line x1="339.1" y1="77.1" x2="345.5" y2="77.1" stroke="#667" stroke-width="0.35"/>
<text x="342.3" y="81.6" font-size="4.056" text-anchor="middle" fill="#556" style="font-style:italic;">f8</text>
<line x1="416.1" y1="40.5" x2="435.7" y2="40.5" stroke="#1a1a1a" stroke-width="0.5"/>
<polygon points="416.1,40.5 419.3,39.6 419.3,41.4" fill="#1a1a1a"/>
<polygon points="435.7,40.5 432.5,41.4 432.5,39.6" fill="#1a1a1a"/>
<text x="426" y="38.1" font-size="4.6" text-anchor="middle" fill="#3a3a4a" style="font-style:italic;">Ø25 j6</text>
<line x1="416.1" y1="38.8" x2="416.1" y2="41" stroke="#1a1a1a" stroke-width="0.45"/>
<line x1="435.7" y1="38.8" x2="435.7" y2="41" stroke="#1a1a1a" stroke-width="0.45"/>
<line x1="171.7" y1="145.2" x2="267" y2="145.2" stroke="#1a1a1a" stroke-width="0.5"/>
<polygon points="171.7,145.2 174.9,144.3 174.9,146.1" fill="#1a1a1a"/>
<polygon points="267,145.2 263.8,146.1 263.8,144.3" fill="#1a1a1a"/>
<text x="219.5" y="143.3" font-size="4.6" text-anchor="middle" fill="#3a3a4a" style="font-style:italic;">Ø120H7</text>
<text x="338.4" y="107.6" font-size="4.6" text-anchor="middle" fill="#3a3a4a" style="font-style:italic;">Ø72H7</text>
<text x="426" y="117.5" font-size="4.6" text-anchor="middle" fill="#3a3a4a" style="font-style:italic;">Ø62I7</text>
<line x1="193.3" y1="186" x2="246" y2="186" stroke="#1a1a1a" stroke-width="0.5"/>
<polygon points="193.3,186 196.5,185.1 196.5,186.9" fill="#1a1a1a"/>
<polygon points="246,186 242.8,186.9 242.8,185.1" fill="#1a1a1a"/>
<text x="221.5" y="182.3" font-size="4.4" text-anchor="end" fill="#556" style="font-style:italic;">Ø65</text>
<text x="224.8" y="178.9" font-size="3.4320000000000004" text-anchor="middle" fill="#556" style="font-style:italic;">H7</text>
<line x1="221.6" y1="180.4" x2="228" y2="180.4" stroke="#667" stroke-width="0.35"/>
<text x="224.8" y="184.9" font-size="3.4320000000000004" text-anchor="middle" fill="#556" style="font-style:italic;">s6</text>
<line x1="187.6" y1="223.6" x2="252.2" y2="223.6" stroke="#1a1a1a" stroke-width="0.5"/>
<polygon points="187.6,223.6 190.8,222.7 190.8,224.5" fill="#1a1a1a"/>
<polygon points="252.2,223.6 249,224.5 249,222.7" fill="#1a1a1a"/>
<text x="219.5" y="222.3" font-size="4.6" text-anchor="middle" fill="#3a3a4a" style="font-style:italic;">Ø80h8</text>
<line x1="197.7" y1="246.6" x2="240.9" y2="246.6" stroke="#1a1a1a" stroke-width="0.5"/>
<polygon points="197.7,246.6 200.9,245.7 200.9,247.5" fill="#1a1a1a"/>
<polygon points="240.9,246.6 237.7,247.5 237.7,245.7" fill="#1a1a1a"/>
<text x="219.5" y="245.3" font-size="4.6" text-anchor="middle" fill="#3a3a4a" style="font-style:italic;">Ø55n6</text>
<line x1="197.7" y1="269.4" x2="240.9" y2="269.4" stroke="#1a1a1a" stroke-width="0.5"/>
<polygon points="197.7,269.4 200.9,268.5 200.9,270.3" fill="#1a1a1a"/>
<polygon points="240.9,269.4 237.7,270.3 237.7,268.5" fill="#1a1a1a"/>
<text x="219.5" y="268.1" font-size="4.6" text-anchor="middle" fill="#3a3a4a" style="font-style:italic;">Ø55d9</text>
<line x1="199.6" y1="354.3" x2="239.6" y2="354.3" stroke="#1a1a1a" stroke-width="0.5"/>
<polygon points="199.6,354.3 202.8,353.4 202.8,355.2" fill="#1a1a1a"/>
<polygon points="239.6,354.3 236.4,355.2 236.4,353.4" fill="#1a1a1a"/>
<text x="219.5" y="352.2" font-size="4.6" text-anchor="middle" fill="#3a3a4a" style="font-style:italic;">Ø50k6</text>
<line x1="199.6" y1="334" x2="199.6" y2="356.5" stroke="#1a1a1a" stroke-width="0.45"/>
<line x1="239.6" y1="334" x2="239.6" y2="356.5" stroke="#1a1a1a" stroke-width="0.45"/>
<line x1="189.3" y1="283.2" x2="189.3" y2="334.4" stroke="#1a1a1a" stroke-width="0.5"/>
<polygon points="189.3,283.2 190.2,286.4 188.4,286.4" fill="#1a1a1a"/>
<polygon points="189.3,334.4 188.4,331.2 190.2,331.2" fill="#1a1a1a"/>
<text x="186" y="309.6" font-size="4.6" text-anchor="middle" fill="#3a3a4a" style="font-style:italic;" transform="rotate(-90 186 309.6)">85</text>
<line x1="187" y1="283.2" x2="197.7" y2="283.2" stroke="#1a1a1a" stroke-width="0.45"/>
<line x1="187" y1="334.4" x2="199.6" y2="334.4" stroke="#1a1a1a" stroke-width="0.45"/>
<line x1="104.8" y1="180.7" x2="104.8" y2="218.5" stroke="#1a1a1a" stroke-width="0.5"/>
<polygon points="104.8,180.7 105.7,183.9 103.9,183.9" fill="#1a1a1a"/>
<polygon points="104.8,218.5 103.9,215.3 105.7,215.3" fill="#1a1a1a"/>
<text x="101.5" y="199.5" font-size="4.6" text-anchor="middle" fill="#3a3a4a" style="font-style:italic;" transform="rotate(-90 101.5 199.5)">47</text>
<line x1="103.5" y1="180.7" x2="126.6" y2="180.7" stroke="#1a1a1a" stroke-width="0.45"/>
<line x1="103.5" y1="218.5" x2="126.6" y2="218.5" stroke="#1a1a1a" stroke-width="0.45"/>
<line x1="121.2" y1="180.7" x2="121.2" y2="199.2" stroke="#1a1a1a" stroke-width="0.45"/>
<line x1="112.5" y1="199.2" x2="121.2" y2="199.2" stroke="#1a1a1a" stroke-width="0.45"/>
<line x1="281.8" y1="149.4" x2="281.8" y2="175.8" stroke="#1a1a1a" stroke-width="0.5"/>
<polygon points="281.8,149.4 282.7,152.6 280.9,152.6" fill="#1a1a1a"/>
<polygon points="281.8,175.8 280.9,172.6 282.7,172.6" fill="#1a1a1a"/>
<text x="279.3" y="163" font-size="4.6" text-anchor="middle" fill="#3a3a4a" style="font-style:italic;" transform="rotate(-90 279.3 163)">30</text>
<line x1="413.5" y1="227.6" x2="438" y2="227.6" stroke="#1a1a1a" stroke-width="0.5"/>
<polygon points="413.5,227.6 416.7,226.7 416.7,228.5" fill="#1a1a1a"/>
<polygon points="438,227.6 434.8,228.5 434.8,226.7" fill="#1a1a1a"/>
<text x="426" y="225.3" font-size="4.6" text-anchor="middle" fill="#3a3a4a" style="font-style:italic;">Ø30k6</text>
<line x1="326.5" y1="237.2" x2="350.4" y2="237.2" stroke="#1a1a1a" stroke-width="0.5"/>
<polygon points="326.5,237.2 329.7,236.3 329.7,238.1" fill="#1a1a1a"/>
<polygon points="350.4,237.2 347.2,238.1 347.2,236.3" fill="#1a1a1a"/>
<text x="338.5" y="235.3" font-size="4.6" text-anchor="middle" fill="#3a3a4a" style="font-style:italic;">Ø30k6</text>
<line x1="401.8" y1="285.9" x2="451.3" y2="285.9" stroke="#1a1a1a" stroke-width="0.5"/>
<polygon points="401.8,285.9 405,285 405,286.8" fill="#1a1a1a"/>
<polygon points="451.3,285.9 448.1,286.8 448.1,285" fill="#1a1a1a"/>
<text x="426" y="282.3" font-size="4.6" text-anchor="end" fill="#556" style="font-style:italic;">Ø62</text>
<text x="429.3" y="278.9" font-size="3.5879999999999996" text-anchor="middle" fill="#556" style="font-style:italic;">H7</text>
<line x1="426.1" y1="280.4" x2="432.5" y2="280.4" stroke="#667" stroke-width="0.35"/>
<text x="429.3" y="284.9" font-size="3.5879999999999996" text-anchor="middle" fill="#556" style="font-style:italic;">h8</text>
<line x1="401.8" y1="271.5" x2="401.8" y2="288" stroke="#1a1a1a" stroke-width="0.45"/>
<line x1="451.3" y1="271.5" x2="451.3" y2="288" stroke="#1a1a1a" stroke-width="0.45"/>
<g transform="rotate(-90 294.1 296)">
<text x="294.1" y="296" font-size="4.6" text-anchor="end" fill="#556" style="font-style:italic;">Ø8</text>
<text x="297.4" y="292.6" font-size="3.5879999999999996" text-anchor="middle" fill="#556" style="font-style:italic;">H7</text>
<line x1="294.2" y1="294.1" x2="300.6" y2="294.1" stroke="#667" stroke-width="0.35"/>
<text x="297.4" y="298.6" font-size="3.5879999999999996" text-anchor="middle" fill="#556" style="font-style:italic;">h8</text>
</g>
<g transform="rotate(-90 390.7 292.7)">
<text x="390.7" y="292.7" font-size="4.6" text-anchor="end" fill="#556" style="font-style:italic;">Ø6</text>
<text x="394" y="289.3" font-size="3.5879999999999996" text-anchor="middle" fill="#556" style="font-style:italic;">H7</text>
<line x1="390.8" y1="290.8" x2="397.2" y2="290.8" stroke="#667" stroke-width="0.35"/>
<text x="394" y="295.3" font-size="3.5879999999999996" text-anchor="middle" fill="#556" style="font-style:italic;">f8</text>
</g>
<g transform="rotate(-90 129.2 70.7)">
<text x="129.2" y="70.7" font-size="4.6" text-anchor="end" fill="#556" style="font-style:italic;">Ø6</text>
<text x="132.5" y="67.3" font-size="3.5879999999999996" text-anchor="middle" fill="#556" style="font-style:italic;">H7</text>
<line x1="129.3" y1="68.8" x2="135.7" y2="68.8" stroke="#667" stroke-width="0.35"/>
<text x="132.5" y="73.3" font-size="3.5879999999999996" text-anchor="middle" fill="#556" style="font-style:italic;">k6</text>
</g>
<line x1="298.8" y1="246.6" x2="298.8" y2="302" stroke="#1a1a1a" stroke-width="0.5"/>
<polygon points="298.8,258.2 298,255.4 299.6,255.4" fill="#1a1a1a"/>
<line x1="298.8" y1="246.6" x2="309.7" y2="246.6" stroke="#1a1a1a" stroke-width="0.5"/>
<line x1="395.4" y1="238.5" x2="395.4" y2="298.4" stroke="#1a1a1a" stroke-width="0.5"/>
<polygon points="395.4,246.6 396.2,249.4 394.6,249.4" fill="#1a1a1a"/>
<polygon points="395.4,258 394.6,255.2 396.2,255.2" fill="#1a1a1a"/>
<line x1="134.5" y1="61.8" x2="134.5" y2="118" stroke="#1a1a1a" stroke-width="0.45"/>
<polygon points="134.5,109.5 133.6,106.3 135.4,106.3" fill="#1a1a1a"/>
<polygon points="134.5,112.9 135.4,116.1 133.6,116.1" fill="#1a1a1a"/>
<line x1="133.6" y1="112.9" x2="156.6" y2="112.9" stroke="#1a1a1a" stroke-width="0.45"/>
<text x="75.5" y="62.2" font-size="7.9" text-anchor="middle" fill="#55556a" style="font-style:italic;" textLength="3.4" lengthAdjust="spacingAndGlyphs">1</text>
<line x1="71.7" y1="63.3" x2="80.2" y2="63.3" stroke="#111" stroke-width="0.8"/>
<line x1="80.2" y1="63.3" x2="109" y2="119.4" stroke="#111" stroke-width="0.7"/>
<circle cx="109" cy="119.4" r="0.7" fill="#111" stroke="#1a1a1a" stroke-width="0.3"/>
<text x="93" y="62.2" font-size="7.9" text-anchor="middle" fill="#55556a" style="font-style:italic;" textLength="3.4" lengthAdjust="spacingAndGlyphs">7</text>
<line x1="88.7" y1="63.3" x2="97.2" y2="63.3" stroke="#111" stroke-width="0.8"/>
<line x1="97.2" y1="63.3" x2="187" y2="175" stroke="#111" stroke-width="0.7"/>
<circle cx="187" cy="175" r="0.7" fill="#111" stroke="#1a1a1a" stroke-width="0.3"/>
<text x="147.8" y="62.2" font-size="7.9" text-anchor="middle" fill="#55556a" style="font-style:italic;" textLength="6.8" lengthAdjust="spacingAndGlyphs">25</text>
<line x1="142" y1="63.3" x2="153.6" y2="63.3" stroke="#111" stroke-width="0.8"/>
<line x1="153.6" y1="63.3" x2="160.5" y2="93" stroke="#111" stroke-width="0.7"/>
<circle cx="160.5" cy="93" r="0.7" fill="#111" stroke="#1a1a1a" stroke-width="0.3"/>
<text x="173.3" y="62.2" font-size="7.9" text-anchor="middle" fill="#55556a" style="font-style:italic;" textLength="6.8" lengthAdjust="spacingAndGlyphs">40</text>
<line x1="167.4" y1="63.3" x2="179.1" y2="63.3" stroke="#111" stroke-width="0.8"/>
<line x1="167.4" y1="63.3" x2="163.5" y2="93" stroke="#111" stroke-width="0.7"/>
<circle cx="163.5" cy="93" r="0.7" fill="#111" stroke="#1a1a1a" stroke-width="0.3"/>
<text x="202" y="62.2" font-size="7.9" text-anchor="middle" fill="#55556a" style="font-style:italic;" textLength="6.8" lengthAdjust="spacingAndGlyphs">11</text>
<line x1="196.4" y1="63.3" x2="206.8" y2="63.3" stroke="#111" stroke-width="0.8"/>
<line x1="196.4" y1="63.3" x2="186.2" y2="92.4" stroke="#111" stroke-width="0.7"/>
<circle cx="186.2" cy="92.4" r="0.7" fill="#111" stroke="#1a1a1a" stroke-width="0.3"/>
<text x="235.5" y="62.2" font-size="7.9" text-anchor="middle" fill="#55556a" style="font-style:italic;" textLength="6.8" lengthAdjust="spacingAndGlyphs">31</text>
<line x1="230.2" y1="63.3" x2="240.4" y2="63.3" stroke="#111" stroke-width="0.8"/>
<line x1="240.4" y1="63.3" x2="242.3" y2="112" stroke="#111" stroke-width="0.7"/>
<circle cx="242.3" cy="112" r="0.7" fill="#111" stroke="#1a1a1a" stroke-width="0.3"/>
<text x="255" y="62.2" font-size="7.9" text-anchor="middle" fill="#55556a" style="font-style:italic;" textLength="3.4" lengthAdjust="spacingAndGlyphs">6</text>
<line x1="250.4" y1="63.3" x2="260" y2="63.3" stroke="#111" stroke-width="0.8"/>
<line x1="260" y1="63.3" x2="265.5" y2="146" stroke="#111" stroke-width="0.7"/>
<circle cx="265.5" cy="146" r="0.7" fill="#111" stroke="#1a1a1a" stroke-width="0.3"/>
<line x1="274.6" y1="63.3" x2="327.8" y2="63.3" stroke="#111" stroke-width="0.8"/>
<text x="279.9" y="62.2" font-size="7.9" text-anchor="middle" fill="#55556a" style="font-style:italic;" textLength="6.8" lengthAdjust="spacingAndGlyphs">39</text>
<text x="294.4" y="62.2" font-size="7.9" text-anchor="middle" fill="#55556a" style="font-style:italic;" textLength="6.8" lengthAdjust="spacingAndGlyphs">23</text>
<text x="307.6" y="62.2" font-size="7.9" text-anchor="middle" fill="#55556a" style="font-style:italic;" textLength="6.8" lengthAdjust="spacingAndGlyphs">17</text>
<text x="320.7" y="62.2" font-size="7.9" text-anchor="middle" fill="#55556a" style="font-style:italic;" textLength="6.8" lengthAdjust="spacingAndGlyphs">45</text>
<line x1="286.3" y1="63.3" x2="299" y2="94.7" stroke="#111" stroke-width="0.7"/>
<line x1="300.1" y1="63.3" x2="303.3" y2="95.7" stroke="#111" stroke-width="0.7"/>
<line x1="311.8" y1="63.3" x2="320.3" y2="126.6" stroke="#111" stroke-width="0.7"/>
<line x1="326.7" y1="63.3" x2="336.3" y2="147.9" stroke="#111" stroke-width="0.7"/>
<circle cx="299" cy="94.7" r="0.7" fill="#111" stroke="#1a1a1a" stroke-width="0.3"/>
<circle cx="303.3" cy="95.7" r="0.7" fill="#111" stroke="#1a1a1a" stroke-width="0.3"/>
<circle cx="320.3" cy="126.6" r="0.7" fill="#111" stroke="#1a1a1a" stroke-width="0.3"/>
<circle cx="336.3" cy="147.9" r="0.7" fill="#111" stroke="#1a1a1a" stroke-width="0.3"/>
<line x1="357.6" y1="63.3" x2="394.8" y2="63.3" stroke="#111" stroke-width="0.8"/>
<text x="362.9" y="62.2" font-size="7.9" text-anchor="middle" fill="#55556a" style="font-style:italic;" textLength="6.8" lengthAdjust="spacingAndGlyphs">30</text>
<text x="375.6" y="62.2" font-size="7.9" text-anchor="middle" fill="#55556a" style="font-style:italic;" textLength="6.8" lengthAdjust="spacingAndGlyphs">38</text>
<text x="388.4" y="62.2" font-size="7.9" text-anchor="middle" fill="#55556a" style="font-style:italic;" textLength="6.8" lengthAdjust="spacingAndGlyphs">22</text>
<line x1="357.6" y1="63.3" x2="354.4" y2="141.5" stroke="#111" stroke-width="0.7"/>
<line x1="381" y1="63.3" x2="392.7" y2="95.7" stroke="#111" stroke-width="0.7"/>
<line x1="394.8" y1="63.3" x2="395.9" y2="96.8" stroke="#111" stroke-width="0.7"/>
<text x="476.2" y="62.5" font-size="7.9" text-anchor="middle" fill="#55556a" style="font-style:italic;" textLength="6.8" lengthAdjust="spacingAndGlyphs">32</text>
<line x1="470.9" y1="63.6" x2="482.6" y2="63.6" stroke="#111" stroke-width="0.8"/>
<line x1="470.9" y1="63.6" x2="446.4" y2="98.7" stroke="#111" stroke-width="0.7"/>
<circle cx="446.4" cy="98.7" r="0.7" fill="#111" stroke="#1a1a1a" stroke-width="0.3"/>
<text x="491" y="62.5" font-size="7.9" text-anchor="middle" fill="#55556a" style="font-style:italic;" textLength="3.4" lengthAdjust="spacingAndGlyphs">9</text>
<line x1="486.8" y1="63.6" x2="495.3" y2="63.6" stroke="#111" stroke-width="0.8"/>
<line x1="486.8" y1="63.6" x2="453.8" y2="99.8" stroke="#111" stroke-width="0.7"/>
<circle cx="453.8" cy="99.8" r="0.7" fill="#111" stroke="#1a1a1a" stroke-width="0.3"/>
<text x="506" y="62.5" font-size="7.9" text-anchor="middle" fill="#55556a" style="font-style:italic;" textLength="6.8" lengthAdjust="spacingAndGlyphs">18</text>
<line x1="500.6" y1="63.6" x2="511.3" y2="63.6" stroke="#111" stroke-width="0.8"/>
<line x1="500.6" y1="63.6" x2="458" y2="102" stroke="#111" stroke-width="0.7"/>
<circle cx="458" cy="102" r="0.7" fill="#111" stroke="#1a1a1a" stroke-width="0.3"/>
<text x="524.5" y="62.5" font-size="7.9" text-anchor="middle" fill="#55556a" style="font-style:italic;" textLength="6.8" lengthAdjust="spacingAndGlyphs">15</text>
<line x1="518.7" y1="63.6" x2="529.4" y2="63.6" stroke="#111" stroke-width="0.8"/>
<line x1="518.7" y1="63.6" x2="449.8" y2="137" stroke="#111" stroke-width="0.7"/>
<circle cx="449.8" cy="137" r="0.7" fill="#111" stroke="#1a1a1a" stroke-width="0.3"/>
<text x="124.4" y="318.1" font-size="7.9" text-anchor="middle" fill="#55556a" style="font-style:italic;" textLength="6.8" lengthAdjust="spacingAndGlyphs">20</text>
<line x1="118.4" y1="319.2" x2="132.8" y2="319.2" stroke="#111" stroke-width="0.8"/>
<line x1="130.4" y1="319.2" x2="156.8" y2="274.8" stroke="#111" stroke-width="0.7"/>
<circle cx="156.8" cy="274.8" r="0.7" fill="#111" stroke="#1a1a1a" stroke-width="0.3"/>
<text x="143.6" y="318.1" font-size="7.9" text-anchor="middle" fill="#55556a" style="font-style:italic;" textLength="6.8" lengthAdjust="spacingAndGlyphs">12</text>
<line x1="138.3" y1="319.2" x2="148.4" y2="319.2" stroke="#111" stroke-width="0.8"/>
<line x1="148.4" y1="319.2" x2="168.9" y2="272.4" stroke="#111" stroke-width="0.7"/>
<circle cx="168.9" cy="272.4" r="0.7" fill="#111" stroke="#1a1a1a" stroke-width="0.3"/>
<text x="168.4" y="318.1" font-size="7.9" text-anchor="middle" fill="#55556a" style="font-style:italic;" textLength="6.8" lengthAdjust="spacingAndGlyphs">33</text>
<line x1="162.9" y1="319.2" x2="174.9" y2="319.2" stroke="#111" stroke-width="0.8"/>
<line x1="174.9" y1="319.2" x2="192.9" y2="274.8" stroke="#111" stroke-width="0.7"/>
<circle cx="192.9" cy="274.8" r="0.7" fill="#111" stroke="#1a1a1a" stroke-width="0.3"/>
<text x="254.1" y="318.1" font-size="7.9" text-anchor="middle" fill="#55556a" style="font-style:italic;" textLength="3.4" lengthAdjust="spacingAndGlyphs">5</text>
<line x1="248.1" y1="319.2" x2="257.7" y2="319.2" stroke="#111" stroke-width="0.8"/>
<line x1="248.1" y1="319.2" x2="230.1" y2="278.4" stroke="#111" stroke-width="0.7"/>
<circle cx="230.1" cy="278.4" r="0.7" fill="#111" stroke="#1a1a1a" stroke-width="0.3"/>
<text x="294.6" y="318.3" font-size="7.9" text-anchor="middle" fill="#55556a" style="font-style:italic;" textLength="6.8" lengthAdjust="spacingAndGlyphs">36</text>
<line x1="288.9" y1="319.4" x2="300.9" y2="319.4" stroke="#111" stroke-width="0.8"/>
<line x1="288.9" y1="319.4" x2="265.5" y2="250" stroke="#111" stroke-width="0.7"/>
<circle cx="265.5" cy="250" r="0.7" fill="#111" stroke="#1a1a1a" stroke-width="0.3"/>
<text x="323.6" y="318.3" font-size="7.9" text-anchor="middle" fill="#55556a" style="font-style:italic;" textLength="6.8" lengthAdjust="spacingAndGlyphs">19</text>
<line x1="317.3" y1="319.4" x2="329.3" y2="319.4" stroke="#111" stroke-width="0.8"/>
<line x1="317.3" y1="319.4" x2="307.6" y2="263.5" stroke="#111" stroke-width="0.7"/>
<circle cx="307.6" cy="263.5" r="0.7" fill="#111" stroke="#1a1a1a" stroke-width="0.3"/>
<text x="338.7" y="318.3" font-size="7.9" text-anchor="middle" fill="#55556a" style="font-style:italic;" textLength="6.8" lengthAdjust="spacingAndGlyphs">16</text>
<line x1="333" y1="319.4" x2="345" y2="319.4" stroke="#111" stroke-width="0.8"/>
<line x1="333" y1="319.4" x2="327" y2="241" stroke="#111" stroke-width="0.7"/>
<circle cx="327" cy="241" r="0.7" fill="#111" stroke="#1a1a1a" stroke-width="0.3"/>
<text x="352.6" y="318.3" font-size="7.9" text-anchor="middle" fill="#55556a" style="font-style:italic;" textLength="3.4" lengthAdjust="spacingAndGlyphs">4</text>
<line x1="347.3" y1="319.4" x2="355.8" y2="319.4" stroke="#111" stroke-width="0.8"/>
<line x1="347.3" y1="319.4" x2="340.6" y2="236.5" stroke="#111" stroke-width="0.7"/>
<circle cx="340.6" cy="236.5" r="0.7" fill="#111" stroke="#1a1a1a" stroke-width="0.3"/>
<text x="364.6" y="318.3" font-size="7.9" text-anchor="middle" fill="#55556a" style="font-style:italic;" textLength="6.8" lengthAdjust="spacingAndGlyphs">10</text>
<line x1="358.9" y1="319.4" x2="370.3" y2="319.4" stroke="#111" stroke-width="0.8"/>
<line x1="358.9" y1="319.4" x2="349.6" y2="265" stroke="#111" stroke-width="0.7"/>
<circle cx="349.6" cy="265" r="0.7" fill="#111" stroke="#1a1a1a" stroke-width="0.3"/>
<text x="378.8" y="318.3" font-size="7.9" text-anchor="middle" fill="#55556a" style="font-style:italic;" textLength="6.8" lengthAdjust="spacingAndGlyphs">35</text>
<line x1="373.4" y1="319.4" x2="384.2" y2="319.4" stroke="#111" stroke-width="0.8"/>
<line x1="373.4" y1="319.4" x2="357" y2="244" stroke="#111" stroke-width="0.7"/>
<circle cx="357" cy="244" r="0.7" fill="#111" stroke="#1a1a1a" stroke-width="0.3"/>
<text x="394.4" y="318.3" font-size="7.9" text-anchor="middle" fill="#55556a" style="font-style:italic;" textLength="6.8" lengthAdjust="spacingAndGlyphs">34</text>
<line x1="388.4" y1="319.4" x2="400.7" y2="319.4" stroke="#111" stroke-width="0.8"/>
<line x1="400.7" y1="319.4" x2="402" y2="262" stroke="#111" stroke-width="0.7"/>
<circle cx="402" cy="262" r="0.7" fill="#111" stroke="#1a1a1a" stroke-width="0.3"/>
<text x="413.9" y="318.3" font-size="7.9" text-anchor="middle" fill="#55556a" style="font-style:italic;" textLength="3.4" lengthAdjust="spacingAndGlyphs">3</text>
<line x1="409.4" y1="319.4" x2="417.8" y2="319.4" stroke="#111" stroke-width="0.8"/>
<line x1="417.8" y1="319.4" x2="426" y2="240" stroke="#111" stroke-width="0.7"/>
<circle cx="426" cy="240" r="0.7" fill="#111" stroke="#1a1a1a" stroke-width="0.3"/>
<text x="452.3" y="318.3" font-size="7.9" text-anchor="middle" fill="#55556a" style="font-style:italic;" textLength="6.8" lengthAdjust="spacingAndGlyphs">29</text>
<line x1="446.6" y1="319.4" x2="457.6" y2="319.4" stroke="#111" stroke-width="0.8"/>
<line x1="446.6" y1="319.4" x2="440" y2="245" stroke="#111" stroke-width="0.7"/>
<circle cx="440" cy="245" r="0.7" fill="#111" stroke="#1a1a1a" stroke-width="0.3"/>
<text x="468.7" y="318.3" font-size="7.9" text-anchor="middle" fill="#55556a" style="font-style:italic;" textLength="3.4" lengthAdjust="spacingAndGlyphs">8</text>
<line x1="463.9" y1="319.4" x2="473.4" y2="319.4" stroke="#111" stroke-width="0.8"/>
<line x1="463.9" y1="319.4" x2="452.9" y2="266.3" stroke="#111" stroke-width="0.7"/>
<circle cx="452.9" cy="266.3" r="0.7" fill="#111" stroke="#1a1a1a" stroke-width="0.3"/>
<text x="164.8" y="299.3" font-size="8.5" text-anchor="middle" fill="#3a3a60" style="">K</text>
<line x1="168.9" y1="294" x2="168.9" y2="305.6" stroke="#1a1a1a" stroke-width="0.6"/>
<polygon points="168.9,305.2 168,302.2 169.8,302.2" fill="#1a1a1a"/>
<line x1="168.9" y1="305.6" x2="176.1" y2="305.6" stroke="#1a1a1a" stroke-width="0.9"/>
<text x="255.2" y="299.3" font-size="8.5" text-anchor="middle" fill="#3a3a60" style="">K</text>
<line x1="251.7" y1="294" x2="251.7" y2="305.6" stroke="#1a1a1a" stroke-width="0.6"/>
<polygon points="251.7,305.2 250.8,302.2 252.6,302.2" fill="#1a1a1a"/>
<line x1="244.5" y1="305.6" x2="251.7" y2="305.6" stroke="#1a1a1a" stroke-width="0.9"/>
<text x="401" y="76.5" font-size="10.5" text-anchor="middle" fill="#556" style="font-style:italic;">Л</text>
<line x1="401.8" y1="64.8" x2="412.1" y2="64.8" stroke="#1a1a1a" stroke-width="1.0"/>
<line x1="404.5" y1="66" x2="404.5" y2="76.5" stroke="#1a1a1a" stroke-width="0.7"/>
<polygon points="404.5,65.2 405.4,69.7 403.6,69.7" fill="#1a1a1a"/>
<text x="452.6" y="76.5" font-size="10.5" text-anchor="middle" fill="#556" style="font-style:italic;">Л</text>
<line x1="441.3" y1="64.8" x2="451.1" y2="64.8" stroke="#1a1a1a" stroke-width="1.0"/>
<line x1="448.5" y1="66" x2="448.5" y2="76.5" stroke="#1a1a1a" stroke-width="0.7"/>
<polygon points="448.5,65.2 449.4,69.7 447.6,69.7" fill="#1a1a1a"/>
<text x="251.4" y="43.4" font-size="7.8" text-anchor="start" fill="#55556a" style="font-style:italic;" textLength="11.7" lengthAdjust="spacingAndGlyphs">А–А</text>
<text x="393.5" y="186.2" font-size="4.8" text-anchor="middle" fill="#3a3a4a" style="font-style:italic;">z<tspan font-size="3" dy="1">2</tspan><tspan dy="-1">=80</tspan></text>
<line x1="385.5" y1="187.7" x2="401.5" y2="187.7" stroke="#1a1a1a" stroke-width="0.75"/>
<line x1="401.5" y1="187.7" x2="410.7" y2="173.3" stroke="#1a1a1a" stroke-width="0.7"/>
<text x="393.5" y="194.2" font-size="4.8" text-anchor="middle" fill="#3a3a4a" style="font-style:italic;">x<tspan font-size="3" dy="1">2</tspan><tspan dy="-1">=0</tspan></text>
<line x1="385.5" y1="195.7" x2="401.5" y2="195.7" stroke="#1a1a1a" stroke-width="0.75"/>
<line x1="401.5" y1="187.7" x2="401.5" y2="195.7" stroke="#1a1a1a" stroke-width="0.75"/>
<text x="373" y="200.8" font-size="4.6" text-anchor="start" fill="#3a3a4a" style="font-style:italic;">z<tspan font-size="3" dy="1">1</tspan><tspan dy="-1">=19</tspan></text>
<text x="373" y="208.7" font-size="4.6" text-anchor="start" fill="#3a3a4a" style="font-style:italic;">m<tspan font-size="3" dy="1">n</tspan><tspan dy="-1">=3</tspan></text>
<text x="373" y="216.3" font-size="4.6" text-anchor="start" fill="#3a3a4a" style="font-style:italic;">β=15°4'28"</text>
<text x="373" y="223.7" font-size="4.6" text-anchor="start" fill="#3a3a4a" style="font-style:italic;">x<tspan font-size="3" dy="1">1</tspan><tspan dy="-1">=0</tspan></text>
<line x1="371.2" y1="202.3" x2="393.8" y2="202.3" stroke="#1a1a1a" stroke-width="0.75"/>
<line x1="371.2" y1="210.3" x2="393.8" y2="210.3" stroke="#1a1a1a" stroke-width="0.75"/>
<line x1="371.2" y1="218.3" x2="393.8" y2="218.3" stroke="#1a1a1a" stroke-width="0.75"/>
<line x1="371.2" y1="226.3" x2="393.8" y2="226.3" stroke="#1a1a1a" stroke-width="0.75"/>
<line x1="371.2" y1="202.3" x2="371.2" y2="226.3" stroke="#1a1a1a" stroke-width="0.75"/>
<line x1="371.2" y1="202.3" x2="362.4" y2="187.1" stroke="#1a1a1a" stroke-width="0.7"/>
<text x="143" y="157.8" font-size="4.8" text-anchor="start" fill="#3a3a4a" style="font-style:italic;">z<tspan font-size="3" dy="1">2</tspan><tspan dy="-1">=79</tspan></text>
<text x="143" y="166.6" font-size="4.8" text-anchor="start" fill="#3a3a4a" style="font-style:italic;">x<tspan font-size="3" dy="1">2</tspan><tspan dy="-1">=0</tspan></text>
<line x1="137.5" y1="160.5" x2="153" y2="160.5" stroke="#1a1a1a" stroke-width="0.75"/>
<line x1="137.5" y1="169.5" x2="153" y2="169.5" stroke="#1a1a1a" stroke-width="0.75"/>
<line x1="137.5" y1="160.5" x2="137.5" y2="169.5" stroke="#1a1a1a" stroke-width="0.75"/>
<line x1="137.5" y1="160.5" x2="124.3" y2="182.5" stroke="#1a1a1a" stroke-width="0.7"/>
<text x="516.5" y="186.3" font-size="4.6" text-anchor="start" fill="#3a3a4a" style="font-style:italic;">z<tspan font-size="3" dy="1">3</tspan><tspan dy="-1">=18</tspan></text>
<text x="516.5" y="194.5" font-size="4.6" text-anchor="start" fill="#3a3a4a" style="font-style:italic;">m<tspan font-size="3" dy="1">n</tspan><tspan dy="-1">=2</tspan></text>
<text x="516.5" y="202.3" font-size="4.6" text-anchor="start" fill="#3a3a4a" style="font-style:italic;">β=10°16'2"</text>
<text x="516.5" y="210.1" font-size="4.6" text-anchor="start" fill="#3a3a4a" style="font-style:italic;">x<tspan font-size="3" dy="1">3</tspan><tspan dy="-1">=0</tspan></text>
<line x1="515" y1="187.5" x2="538.4" y2="187.5" stroke="#1a1a1a" stroke-width="0.75"/>
<line x1="515" y1="195.7" x2="538.4" y2="195.7" stroke="#1a1a1a" stroke-width="0.75"/>
<line x1="515" y1="203.5" x2="538.4" y2="203.5" stroke="#1a1a1a" stroke-width="0.75"/>
<line x1="515" y1="211.3" x2="538.4" y2="211.3" stroke="#1a1a1a" stroke-width="0.75"/>
<line x1="515" y1="187.5" x2="515" y2="211.3" stroke="#1a1a1a" stroke-width="0.75"/>
<line x1="515" y1="187.5" x2="441.5" y2="150.5" stroke="#1a1a1a" stroke-width="0.7"/>
<clipPath id="c1"><circle cx="595.7" cy="115.8" r="20.3"/></clipPath>
<clipPath id="c2"><circle cx="602.2" cy="234.8" r="20.2"/></clipPath>
<text x="582.8" y="61.2" font-size="7.6" text-anchor="start" fill="#55556a" style="font-style:italic;" textLength="23.4" lengthAdjust="spacingAndGlyphs">Л–Л (2:1)</text>
<g clip-path="url(#c1)"><rect x="570" y="90" width="52" height="52" fill="url(#hs)"/></g>
<circle cx="595.7" cy="115.8" r="20.3" fill="none" stroke="#1a1a1a" stroke-width="0.9"/>
<rect x="589" y="91" width="12.3" height="11.5" fill="#1a1a1a" stroke="#1a1a1a" stroke-width="0.7"/>
<rect x="590.5" y="92.3" width="9.3" height="9" fill="#444"/>
<rect x="589" y="82.1" width="12.3" height="8.9" fill="none" stroke="#1a1a1a" stroke-width="0.6"/>
<line x1="570.6" y1="115.8" x2="619" y2="115.8" stroke="#1a1a1a" stroke-width="0.45" stroke-dasharray="8,1.5,1.2,1.5"/>
<line x1="595.7" y1="83.4" x2="595.7" y2="139.6" stroke="#1a1a1a" stroke-width="0.45" stroke-dasharray="8,1.5,1.2,1.5"/>
<text x="559.8" y="73.3" font-size="7.9" text-anchor="middle" fill="#55556a" style="font-style:italic;" textLength="6.8" lengthAdjust="spacingAndGlyphs">43</text>
<line x1="554" y1="74.5" x2="565.5" y2="74.5" stroke="#111" stroke-width="0.8"/>
<line x1="565.5" y1="74.5" x2="591" y2="95.7" stroke="#111" stroke-width="0.7"/>
<line x1="589" y1="83.5" x2="626.8" y2="83.5" stroke="#1a1a1a" stroke-width="0.5"/>
<polygon points="589,83.5 586.4,84.3 586.4,82.7" fill="#1a1a1a"/>
<polygon points="601.3,83.5 603.9,82.7 603.9,84.3" fill="#1a1a1a"/>
<text x="616" y="80.8" font-size="4.6" text-anchor="middle" fill="#55556a" style="font-style:italic;">8 P9/h9</text>
<line x1="589" y1="82.1" x2="589" y2="91" stroke="#1a1a1a" stroke-width="0.45"/>
<line x1="601.3" y1="80" x2="601.3" y2="91" stroke="#1a1a1a" stroke-width="0.45"/>
<line x1="566.8" y1="91" x2="566.8" y2="102.5" stroke="#1a1a1a" stroke-width="0.5"/>
<polygon points="566.8,91 567.7,94.2 565.9,94.2" fill="#1a1a1a"/>
<polygon points="566.8,102.5 565.9,99.3 567.7,99.3" fill="#1a1a1a"/>
<text x="563.5" y="113" font-size="4.5" text-anchor="middle" fill="#3a3a4a" style="font-style:italic;" transform="rotate(-90 563.5 113)">7 h10</text>
<line x1="566.8" y1="91" x2="589" y2="91" stroke="#1a1a1a" stroke-width="0.45"/>
<line x1="566.8" y1="102.5" x2="589" y2="102.5" stroke="#1a1a1a" stroke-width="0.45"/>
<line x1="625.5" y1="91" x2="625.5" y2="135.7" stroke="#1a1a1a" stroke-width="0.5"/>
<polygon points="625.5,91 626.4,94.2 624.6,94.2" fill="#1a1a1a"/>
<polygon points="625.5,135.7 624.6,132.5 626.4,132.5" fill="#1a1a1a"/>
<text x="622.3" y="115" font-size="4.6" text-anchor="middle" fill="#3a3a4a" style="font-style:italic;" transform="rotate(-90 622.3 115)">28<tspan font-size="3">-0,2</tspan></text>
<line x1="601.3" y1="91" x2="627" y2="91" stroke="#1a1a1a" stroke-width="0.45"/>
<line x1="596" y1="135.7" x2="627" y2="135.7" stroke="#1a1a1a" stroke-width="0.45"/>
<text x="593.4" y="181" font-size="7.6" text-anchor="start" fill="#55556a" style="font-style:italic;" textLength="10.6" lengthAdjust="spacingAndGlyphs">K–K</text>
<g clip-path="url(#c2)"><rect x="575" y="210" width="56" height="52" fill="url(#hs)"/></g>
<circle cx="602.2" cy="234.8" r="20.2" fill="none" stroke="#1a1a1a" stroke-width="0.9"/>
<rect x="595.7" y="212.3" width="11.2" height="6.9" fill="#1a1a1a" stroke="#1a1a1a" stroke-width="0.7"/>
<rect x="597" y="213.5" width="8.6" height="4.5" fill="#777"/>
<circle cx="604.5" cy="215.8" r="0.9" fill="#111" stroke="#1a1a1a" stroke-width="0.3"/>
<line x1="595.7" y1="194.5" x2="595.7" y2="212.3" stroke="#1a1a1a" stroke-width="0.45"/>
<line x1="606.9" y1="194.5" x2="606.9" y2="212.3" stroke="#1a1a1a" stroke-width="0.45"/>
<line x1="595.7" y1="195" x2="606.9" y2="195" stroke="#1a1a1a" stroke-width="0.5"/>
<polygon points="595.7,195 598.9,194.1 598.9,195.9" fill="#1a1a1a"/>
<polygon points="606.9,195 603.7,195.9 603.7,194.1" fill="#1a1a1a"/>
<text x="584" y="192" font-size="4.5" text-anchor="middle" fill="#3a3a4a" style="font-style:italic;">14<tspan font-size="3">P9</tspan></text>
<line x1="578.3" y1="195" x2="595.7" y2="195" stroke="#1a1a1a" stroke-width="0.45"/>
<line x1="578.3" y1="212.3" x2="578.3" y2="219.2" stroke="#1a1a1a" stroke-width="0.5"/>
<polygon points="578.3,212.3 579.2,215.5 577.4,215.5" fill="#1a1a1a"/>
<polygon points="578.3,219.2 577.4,216 579.2,216" fill="#1a1a1a"/>
<text x="575" y="202.5" font-size="4.5" text-anchor="middle" fill="#3a3a4a" style="font-style:italic;" transform="rotate(-90 575 202.5)">9 h11</text>
<line x1="575" y1="212.3" x2="595.7" y2="212.3" stroke="#1a1a1a" stroke-width="0.45"/>
<line x1="575" y1="219.2" x2="595.7" y2="219.2" stroke="#1a1a1a" stroke-width="0.45"/>
<line x1="578.3" y1="200" x2="578.3" y2="224" stroke="#1a1a1a" stroke-width="0.45"/>
<text x="632.8" y="191.3" font-size="7.9" text-anchor="middle" fill="#55556a" style="font-style:italic;" textLength="6.8" lengthAdjust="spacingAndGlyphs">44</text>
<line x1="626.8" y1="192.4" x2="639.6" y2="192.4" stroke="#111" stroke-width="0.8"/>
<line x1="626.8" y1="192.4" x2="605.1" y2="214.9" stroke="#111" stroke-width="0.7"/>
<line x1="635.7" y1="212.3" x2="635.7" y2="254.5" stroke="#1a1a1a" stroke-width="0.5"/>
<polygon points="635.7,212.3 636.6,215.5 634.8,215.5" fill="#1a1a1a"/>
<polygon points="635.7,254.5 634.8,251.3 636.6,251.3" fill="#1a1a1a"/>
<text x="632.5" y="234" font-size="4.6" text-anchor="middle" fill="#3a3a4a" style="font-style:italic;" transform="rotate(-90 632.5 234)">53,5<tspan font-size="3">-0,2</tspan></text>
<line x1="606.9" y1="212.3" x2="637" y2="212.3" stroke="#1a1a1a" stroke-width="0.45"/>
<line x1="602" y1="254.5" x2="637" y2="254.5" stroke="#1a1a1a" stroke-width="0.45"/>
<line x1="577" y1="234.8" x2="625.5" y2="234.8" stroke="#1a1a1a" stroke-width="0.45" stroke-dasharray="8,1.5,1.2,1.5"/>
<line x1="602.2" y1="212" x2="602.2" y2="258.3" stroke="#1a1a1a" stroke-width="0.45" stroke-dasharray="8,1.5,1.2,1.5"/>
<text x="496.8" y="316" font-size="6.0" text-anchor="start" fill="#4a4a60" style="font-style:italic;" textLength="59.1" lengthAdjust="spacingAndGlyphs">Техническая характеристика</text>
<text x="496.8" y="327.2" font-size="6.0" text-anchor="start" fill="#4a4a60" style="font-style:italic;" textLength="106.2" lengthAdjust="spacingAndGlyphs">1 Вращающий момент на тихоходном валу 658.5 Н*м</text>
<text x="496.8" y="335" font-size="6.0" text-anchor="start" fill="#4a4a60" style="font-style:italic;" textLength="97.4" lengthAdjust="spacingAndGlyphs">2 Частота вращения тихоходного вала 67.4 мин</text>
<text x="496.8" y="340.4" font-size="6.0" text-anchor="start" fill="#4a4a60" style="font-style:italic;" textLength="72.4" lengthAdjust="spacingAndGlyphs">3 Общее передаточное число 21.291</text>
<text x="496.8" y="345.8" font-size="6.0" text-anchor="start" fill="#4a4a60" style="font-style:italic;" textLength="114.9" lengthAdjust="spacingAndGlyphs">4 Степень точности изготовления зубчатой передачи 8</text>
<text x="496.8" y="351.5" font-size="6.0" text-anchor="start" fill="#4a4a60" style="font-style:italic;" textLength="85.5" lengthAdjust="spacingAndGlyphs">5 Коэффициент полезного действия 0.961</text>
<text x="496.8" y="363" font-size="6.0" text-anchor="start" fill="#4a4a60" style="font-style:italic;" textLength="48.6" lengthAdjust="spacingAndGlyphs">Технические требования</text>
<text x="496.8" y="375" font-size="6.0" text-anchor="start" fill="#4a4a60" style="font-style:italic;" textLength="161.1" lengthAdjust="spacingAndGlyphs">1 Необработанные поверхности литых деталей, находящиеся в масляной ванне,</text>
<text x="496.8" y="380.3" font-size="6.0" text-anchor="start" fill="#4a4a60" style="font-style:italic;" textLength="78.6" lengthAdjust="spacingAndGlyphs">красить маслостойкой краской эмалью</text>
<text x="496.8" y="385.8" font-size="6.0" text-anchor="start" fill="#4a4a60" style="font-style:italic;" textLength="159.5" lengthAdjust="spacingAndGlyphs">2 Наружные поверхности корпуса красить серой эмалью ПФ-115 ГОСТ 6465-76</text>
<text x="496.8" y="391.5" font-size="6.0" text-anchor="start" fill="#4a4a60" style="font-style:italic;" textLength="159.5" lengthAdjust="spacingAndGlyphs">3 Плоскость разъема покрыть тонким слоем герметика УТ-34 ГОСТ 24285-80</text>
<text x="496.8" y="397" font-size="6.0" text-anchor="start" fill="#4a4a60" style="font-style:italic;" textLength="53.3" lengthAdjust="spacingAndGlyphs">при окончательной сборке</text>
<text x="496.8" y="402.8" font-size="6.0" text-anchor="start" fill="#4a4a60" style="font-style:italic;" textLength="105.9" lengthAdjust="spacingAndGlyphs">4 Радиальная консольная нагрузка на валу не более</text>
<text x="496.8" y="408.3" font-size="6.0" text-anchor="start" fill="#4a4a60" style="font-style:italic;" textLength="29.7" lengthAdjust="spacingAndGlyphs">Входном 440 Н</text>
<text x="496.8" y="413.7" font-size="6.0" text-anchor="start" fill="#4a4a60" style="font-style:italic;" textLength="33.7" lengthAdjust="spacingAndGlyphs">Выходном 6415 Н</text>
<text x="595" y="331.5" font-size="3" text-anchor="start" fill="#4a4a60" style="font-style:italic;">-1</text>
</svg></body></html>
